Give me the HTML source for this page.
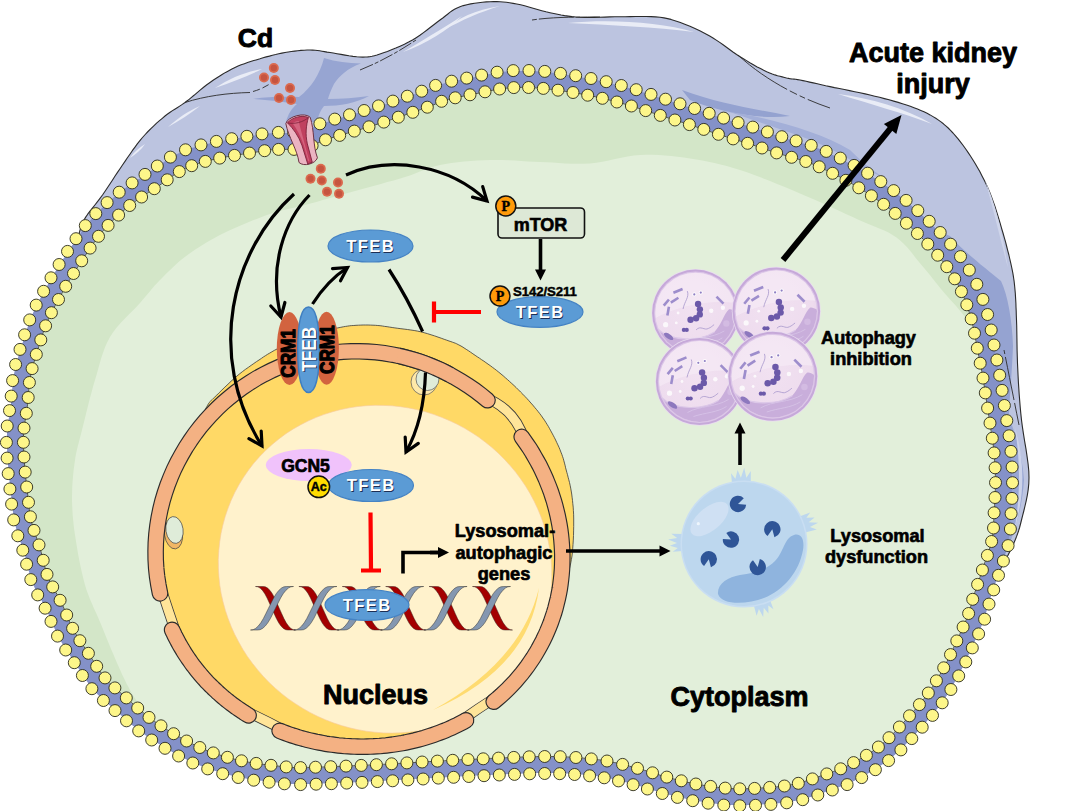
<!DOCTYPE html>
<html><head><meta charset="utf-8"><title>Cd TFEB pathway</title>
<style>html,body{margin:0;padding:0;background:#fff;}svg{display:block;}</style>
</head><body>
<svg width="1079" height="811" viewBox="0 0 1079 811" font-family="'Liberation Sans', sans-serif" font-weight="bold">
<rect width="1079" height="811" fill="#fff"/>
<defs>
<radialGradient id="vesg" cx="45%" cy="42%" r="62%"><stop offset="0" stop-color="#f1e1f1"/><stop offset="0.8" stop-color="#eedcee"/><stop offset="1" stop-color="#e6d2ea"/></radialGradient>
<clipPath id="vclip"><circle r="40.4"/></clipPath>
<clipPath id="lclip"><circle r="62"/></clipPath>
<g id="ves">
  <circle r="44.3" fill="#e9dcf0"/>
  <circle r="43.6" fill="#c6a9d9"/>
  <circle r="41.6" fill="#dcc6e8"/>
  <circle r="40.4" fill="url(#vesg)"/>
  <g clip-path="url(#vclip)">
    <path d="M-42,6 C-20,-6 10,-14 42,-10 L42,-44 L-42,-44Z" fill="#f7edf7" opacity="0.6"/>
    <path d="M-39,15 C-25,30 5,28 19,19 C26,12 29,0 33.5,-3.5 C36,-4.5 39,-2 44,0 L44,44 L-44,44 Z" fill="#c9aedb"/>
    <path d="M-39,15 C-25,30 5,28 19,19" fill="none" stroke="#dcc8e8" stroke-width="1.2"/>
    <circle cx="31" cy="10.5" r="3.2" fill="#d3bbe2"/>
    <path d="M-12,31 C0,24 16,26 29,18 M-6,35 C6,31 18,31 27,25" fill="none" stroke="#d6c2e6" stroke-width="0.9"/>
    <ellipse cx="-27" cy="23.5" rx="5.5" ry="2.4" transform="rotate(35 -27 23.5)" fill="#8d78be"/>
  </g>
  <g stroke="#9d8dcc" stroke-width="2.6" stroke-linecap="butt" fill="none">
    <path d="M-22.2,-20.3 L-13,-24.1"/><path d="M-31.9,-7.4 L-26.7,-13.6"/><path d="M-24.8,-10.5 L-17.2,-15.3"/><path d="M-28.3,2.6 L-26.7,-6.2"/><path d="M21.1,-16.4 L28.1,-9.4"/>
  </g>
  <path d="M-8.2,-22 C-6,-16 -11,-12 -12.5,-4" stroke="#a898cc" stroke-width="0.8" fill="none"/>
  <path d="M0.6,17 C5,12 9,18 13,15.5 C15.5,14.5 17,13 18.7,11.7" stroke="#a898cc" stroke-width="0.8" fill="none"/>
  <g fill="#6b59a9">
    <circle cx="2.6" cy="-9.1" r="3.2"/><circle cx="4.4" cy="-3.7" r="3.2"/><circle cx="4.3" cy="1.4" r="3.2"/><circle cx="0.6" cy="5.3" r="3.2"/><circle cx="-5" cy="6.8" r="3.2"/>
    <circle cx="-11.7" cy="17" r="2.1"/><circle cx="-8.8" cy="17" r="2.1"/>
  </g>
  <g fill="#fff" opacity="0.8"><circle cx="-1.2" cy="-18.7" r="2.1"/><circle cx="5.3" cy="-20.5" r="2.1"/><circle cx="-30" cy="11.7" r="2.6"/><circle cx="15.8" cy="-2.3" r="2.2"/><circle cx="27.5" cy="-5.3" r="2.2"/><circle cx="-17.5" cy="0" r="1.4"/><circle cx="-19.3" cy="10" r="1.4"/></g>
  <g fill="#8f7fc4"><circle cx="-1.2" cy="-18.7" r="1.1"/><circle cx="5.3" cy="-20.5" r="1.1"/></g>
</g>
<g id="pac"><path d="M0,0 L7.43,-3.47 A8.2,8.2 0 1 0 7.43,3.47 Z" fill="#2f5597"/></g>
<g id="tuft"><path d="M-9,3 L-10,-7 L-6,-2 L-4,-10 L-1,-3 L2,-12 L4,-3 L8,-9 L8,3 Z" fill="#bdd7ee"/></g>
</defs>
<path d="M76.0,262.0 L76.1,260.3 L76.3,258.0 L76.4,255.3 L76.6,252.2 L76.9,249.1 L77.2,245.9 L77.5,242.8 L78.0,240.0 L78.5,237.4 L78.9,235.0 L79.4,232.6 L80.0,230.2 L80.7,227.8 L81.5,225.3 L82.6,222.7 L84.0,220.0 L85.7,217.1 L87.7,214.2 L90.0,211.2 L92.4,208.1 L94.9,205.0 L97.5,201.7 L100.0,198.4 L102.5,195.0 L104.9,191.5 L107.4,187.8 L109.9,184.0 L112.4,180.2 L114.9,176.3 L117.5,172.4 L120.0,168.7 L122.5,165.0 L125.0,161.4 L127.4,157.8 L129.9,154.2 L132.3,150.7 L134.8,147.3 L137.3,143.9 L139.9,140.6 L142.5,137.5 L145.2,134.5 L148.0,131.5 L150.9,128.6 L153.8,125.9 L156.6,123.2 L159.5,120.7 L162.3,118.3 L165.0,116.0 L167.6,114.0 L170.1,112.2 L172.5,110.6 L174.8,109.2 L177.2,107.7 L179.7,106.1 L182.3,104.4 L185.0,102.5 L187.9,100.3 L190.9,97.8 L194.0,95.3 L197.2,92.6 L200.4,89.9 L203.6,87.3 L206.8,84.8 L210.0,82.5 L213.1,80.3 L216.2,78.3 L219.4,76.2 L222.5,74.3 L225.6,72.4 L228.8,70.7 L231.9,69.0 L235.0,67.5 L238.1,66.1 L241.2,64.8 L244.4,63.7 L247.5,62.6 L250.6,61.6 L253.8,60.6 L256.9,59.7 L260.0,58.8 L263.1,57.8 L266.2,56.9 L269.4,56.1 L272.5,55.2 L275.6,54.5 L278.8,53.7 L281.9,53.1 L285.0,52.5 L288.2,52.0 L291.4,51.5 L294.6,51.1 L297.8,50.7 L301.0,50.4 L304.1,50.2 L307.1,50.0 L310.0,50.0 L312.7,50.1 L315.1,50.2 L317.4,50.5 L319.7,50.8 L322.0,51.2 L324.4,51.6 L327.1,52.1 L330.0,52.5 L333.3,53.0 L337.0,53.7 L341.0,54.4 L345.0,55.1 L349.0,55.8 L353.0,56.4 L356.7,56.8 L360.0,57.0 L362.9,57.1 L365.4,57.0 L367.7,56.9 L369.8,56.7 L372.0,56.3 L374.4,55.7 L377.0,55.0 L380.0,54.0 L383.5,52.8 L387.4,51.4 L391.5,49.8 L395.8,48.1 L400.1,46.2 L404.4,44.2 L408.6,42.1 L412.5,40.0 L416.2,37.7 L419.9,35.3 L423.5,32.6 L427.0,30.0 L430.5,27.3 L433.8,24.7 L437.0,22.2 L440.0,20.0 L442.8,18.0 L445.3,16.0 L447.6,14.2 L449.8,12.4 L452.1,10.8 L454.5,9.3 L457.1,7.9 L460.0,6.7 L463.3,5.6 L466.9,4.7 L470.7,3.9 L474.6,3.2 L478.6,2.7 L482.5,2.2 L486.3,1.9 L490.0,1.7 L493.5,1.6 L496.8,1.6 L500.0,1.7 L503.1,2.0 L506.3,2.3 L509.6,2.8 L513.1,3.4 L516.7,4.0 L520.6,4.8 L524.6,5.8 L528.8,7.0 L533.1,8.2 L537.5,9.5 L541.8,10.7 L546.0,11.8 L550.0,12.7 L553.8,13.5 L557.5,14.3 L561.1,15.0 L564.6,15.6 L568.2,16.1 L571.9,16.6 L575.8,17.0 L580.0,17.3 L584.5,17.5 L589.3,17.5 L594.3,17.4 L599.4,17.3 L604.6,17.1 L609.8,16.9 L614.9,16.8 L620.0,16.7 L625.1,16.7 L630.3,16.6 L635.6,16.5 L640.8,16.5 L646.0,16.5 L650.9,16.6 L655.6,16.9 L660.0,17.3 L664.0,17.9 L667.6,18.6 L671.0,19.4 L674.2,20.4 L677.3,21.4 L680.4,22.5 L683.5,23.7 L686.7,25.0 L690.0,26.3 L693.3,27.7 L696.6,29.2 L699.8,30.8 L703.1,32.5 L706.4,34.2 L709.7,36.1 L713.0,38.0 L716.3,40.1 L719.7,42.4 L723.1,44.8 L726.5,47.2 L729.9,49.7 L733.3,52.2 L736.6,54.5 L740.0,56.7 L743.4,58.8 L746.9,60.9 L750.3,63.0 L753.8,65.0 L757.2,66.9 L760.5,68.6 L763.7,70.3 L766.7,71.7 L769.6,72.9 L772.3,74.0 L774.9,74.9 L777.5,75.7 L779.9,76.3 L782.2,76.9 L784.5,77.5 L786.6,78.0 L788.5,78.4 L790.0,78.7 L791.4,78.9 L792.7,79.0 L794.0,79.1 L795.6,79.3 L797.6,79.6 L800.0,80.0 L802.9,80.6 L806.1,81.3 L809.6,82.1 L813.3,82.9 L817.3,83.8 L821.4,84.7 L825.7,85.7 L830.0,86.6 L834.5,87.6 L839.4,88.5 L844.4,89.5 L849.6,90.6 L854.8,91.7 L860.0,92.7 L865.1,93.9 L870.0,95.0 L874.8,96.2 L879.6,97.3 L884.4,98.6 L889.1,99.8 L893.7,101.1 L898.2,102.4 L902.4,103.7 L906.5,105.0 L910.3,106.3 L914.0,107.7 L917.5,109.0 L920.8,110.4 L924.0,111.8 L927.1,113.3 L930.1,114.9 L933.0,116.6 L935.8,118.3 L938.5,120.1 L941.0,121.9 L943.4,123.8 L945.8,125.9 L948.2,128.0 L950.5,130.4 L953.0,133.0 L955.5,135.8 L958.1,138.9 L960.6,142.1 L963.2,145.5 L965.7,149.0 L968.2,152.6 L970.6,156.3 L973.0,160.0 L975.3,163.8 L977.6,167.7 L979.8,171.6 L981.9,175.7 L984.0,179.8 L986.1,184.1 L988.1,188.5 L990.0,193.0 L991.8,197.7 L993.6,202.7 L995.4,207.8 L997.0,213.0 L998.6,218.2 L1000.2,223.3 L1001.6,228.3 L1003.0,233.0 L1004.3,237.6 L1005.6,242.1 L1006.7,246.5 L1007.8,250.8 L1008.9,255.0 L1009.8,259.0 L1010.7,262.8 L1011.5,266.5 L1012.2,269.9 L1012.8,272.9 L1013.3,275.8 L1013.7,278.5 L1014.1,281.2 L1014.4,283.9 L1014.7,286.8 L1015.0,290.0 L1015.3,293.3 L1015.5,296.6 L1015.7,299.9 L1015.9,303.3 L1016.0,307.0 L1016.2,310.9 L1016.3,315.2 L1016.5,320.0 L1016.7,325.3 L1016.8,331.1 L1016.9,337.3 L1017.0,343.8 L1017.1,350.4 L1017.3,357.0 L1017.5,363.6 L1017.8,370.0 L1018.1,376.2 L1018.4,382.3 L1018.8,388.4 L1019.2,394.5 L1019.7,400.7 L1020.2,407.0 L1020.8,413.4 L1021.5,420.0 L1022.4,426.9 L1023.5,434.2 L1024.7,441.7 L1026.0,449.2 L1027.1,456.7 L1028.1,464.0 L1028.8,471.0 L1029.0,477.5 L1028.8,483.6 L1028.2,489.6 L1027.3,495.3 L1026.2,500.8 L1025.0,506.0 L1023.8,511.0 L1022.6,515.6 L1021.5,520.0 L1020.5,524.0 L1019.6,527.5 L1018.6,530.7 L1017.6,533.6 L1016.6,536.4 L1015.5,539.2 L1014.3,542.0 L1013.0,545.0 L1011.6,548.1 L1010.1,551.1 L1008.5,554.2 L1006.9,557.2 L1005.2,560.3 L1003.5,563.4 L1001.8,566.6 L1000.0,570.0 L998.1,573.7 L996.0,577.9 L993.9,582.2 L991.7,586.6 L989.6,590.7 L987.7,594.5 L986.2,597.7 L985.0,600.0 L700,500 Z" fill="#bcc4e0" stroke="#2b2b2b" stroke-width="1.1" stroke-linejoin="round"/>
<path d="M324,58 C336,62 348,63 361,63.5 C348,68 339,76 334,84 C331,90 329,95 328,99 C342,99 355,98 369,96 C356,103 340,106 324,106 C320,111 318,116 317,122 L286,122 C288,114 292,108 297,104 C283,102 268,100 253,99 C268,96.5 283,96.5 299,97 C311,88 320,74 324,58Z" fill="#97a5d2"/>
<path d="M682,90 C720,104 750,108 790,116 C760,120 720,112 690,100Z" fill="#94a2d0"/>
<path d="M950,236 C962,250 985,268 1001,281 C1008,296 1012,320 1013,346 C1012,372 1010,392 1009,414 L996,414 C992,360 980,300 940,232 Z" fill="#95a3d1"/>
<path d="M985,180 C996,205 1003,235 1008,268 C1000,238 993,208 985,180Z" fill="#cfd5ea"/>
<path d="M1000,400 C1012,420 1022,450 1024,480 C1022,510 1014,535 1004,556 L996,540 C1006,500 1006,450 1000,400Z" fill="#98a6d3"/>
<path d="M1015,428 C1024,458 1026,492 1014,532 C1021,494 1020,460 1015,428Z" fill="#ccd3ea"/>
<path d="M730,112 C770,118 820,132 850,150 C870,170 880,175 885,178 C860,168 840,150 800,136Z" fill="#a3afd8"/>
<g fill="#e9ecf6">
<path d="M215,88 C230,78 245,72 262,69 C248,76 232,82 215,88Z"/>
<path d="M168,127 C178,118 188,111 200,106 C190,114 179,121 168,127Z"/>
<path d="M130,158 C134,152 139,148 145,144 C141,150 136,154 130,158Z"/>
<path d="M403,52 C420,42 440,30 462,16 C448,30 426,44 403,52Z"/>
<path d="M444,30 C458,18 475,10 500,6 C480,12 462,20 444,30Z"/>
<path d="M568,23 C610,19 660,22 694,32 C655,27 610,25 568,23Z"/>
<path d="M838,94 C870,98 905,108 932,124 C903,113 870,104 838,94Z"/>
</g>
<g fill="none" stroke="#2b2b2b" stroke-width="0.9">
<path d="M185,102.5 C205,96 228,93 250,92.5"/>
<path d="M253,91.5 C262,89 269,85 275,80" stroke-dasharray="7 3"/>
<path d="M360,70 C380,62 398,52 416,40" stroke-dasharray="14 2 4 2"/>
<path d="M532,20 C552,17 575,17 600,17" stroke-dasharray="5 2 30 0"/>
<path d="M738,55 C765,80 800,98 830,108" stroke-dasharray="60 3 8 3 6 3"/>
<path d="M1004,350 C1010,380 1014,400 1019,425" stroke-dasharray="4 3 40 0"/>
</g>
<path d="M302.0,140.0 L304.3,139.5 L306.4,138.8 L308.3,138.1 L310.2,137.3 L312.1,136.4 L314.0,135.4 L316.2,134.4 L318.7,133.3 L321.6,132.2 L325.0,131.0 L328.9,129.8 L333.3,128.4 L338.0,127.0 L343.1,125.5 L348.3,124.0 L353.7,122.4 L359.1,120.8 L364.6,119.2 L369.9,117.6 L375.0,116.0 L380.1,114.3 L385.5,112.6 L391.0,110.7 L396.5,108.9 L402.0,107.0 L407.3,105.2 L412.4,103.4 L417.0,101.8 L421.3,100.3 L425.0,99.0 L428.0,97.9 L430.4,97.0 L432.3,96.2 L433.8,95.5 L435.1,94.9 L436.3,94.3 L437.5,93.8 L439.0,93.2 L440.8,92.7 L443.0,92.0 L445.7,91.3 L448.6,90.6 L451.7,89.9 L455.0,89.1 L458.5,88.4 L461.9,87.7 L465.4,87.0 L468.9,86.3 L472.3,85.6 L475.6,85.0 L478.8,84.4 L481.9,83.7 L485.1,83.1 L488.2,82.4 L491.3,81.8 L494.5,81.2 L497.6,80.7 L500.7,80.2 L503.8,79.8 L507.0,79.5 L510.2,79.3 L513.4,79.1 L516.5,79.0 L519.7,78.9 L522.9,78.9 L526.1,78.9 L529.3,79.0 L532.6,79.1 L535.8,79.3 L539.0,79.5 L542.2,79.7 L545.5,80.0 L548.8,80.4 L552.1,80.8 L555.4,81.2 L558.7,81.7 L562.0,82.2 L565.2,82.7 L568.4,83.2 L571.6,83.7 L574.7,84.2 L577.8,84.7 L580.9,85.3 L583.9,85.8 L586.9,86.4 L589.9,86.9 L592.9,87.5 L595.9,88.2 L599.0,88.8 L602.0,89.5 L605.1,90.2 L608.1,90.9 L611.2,91.7 L614.2,92.5 L617.3,93.3 L620.4,94.1 L623.4,94.9 L626.5,95.8 L629.5,96.6 L632.5,97.5 L635.5,98.4 L638.4,99.3 L641.4,100.2 L644.3,101.2 L647.2,102.1 L650.2,103.1 L653.1,104.1 L656.1,105.1 L659.0,106.0 L662.0,107.0 L665.0,108.0 L668.1,108.9 L671.1,109.9 L674.2,110.9 L677.2,111.8 L680.3,112.8 L683.4,113.8 L686.4,114.8 L689.5,115.7 L692.5,116.7 L695.5,117.7 L698.5,118.7 L701.4,119.6 L704.3,120.6 L707.3,121.6 L710.2,122.6 L713.1,123.6 L716.1,124.6 L719.0,125.5 L722.0,126.5 L725.0,127.4 L728.0,128.4 L731.0,129.3 L734.0,130.2 L737.0,131.2 L740.0,132.1 L743.0,133.0 L746.0,133.9 L749.0,134.9 L752.0,135.8 L755.0,136.8 L757.9,137.7 L760.9,138.7 L763.8,139.7 L766.8,140.7 L769.7,141.7 L772.6,142.6 L775.6,143.6 L778.5,144.6 L781.5,145.5 L784.5,146.4 L787.5,147.3 L790.5,148.1 L793.6,149.0 L796.6,149.8 L799.7,150.7 L802.7,151.6 L805.7,152.5 L808.6,153.5 L811.5,154.5 L814.4,155.6 L817.2,156.7 L819.9,157.9 L822.7,159.1 L825.4,160.3 L828.1,161.6 L830.8,162.9 L833.5,164.3 L836.3,165.6 L839.0,167.0 L841.8,168.4 L844.5,169.9 L847.3,171.4 L850.1,172.9 L852.9,174.4 L855.6,176.0 L858.4,177.6 L861.1,179.2 L863.8,180.9 L866.5,182.5 L869.1,184.2 L871.8,185.8 L874.4,187.5 L876.9,189.2 L879.5,191.0 L882.0,192.7 L884.6,194.5 L887.1,196.3 L889.5,198.1 L892.0,200.0 L894.4,201.9 L896.9,203.8 L899.3,205.8 L901.7,207.8 L904.0,209.8 L906.4,211.8 L908.7,213.8 L911.0,215.9 L913.3,217.9 L915.5,220.0 L917.7,222.0 L919.9,224.1 L922.0,226.1 L924.2,228.2 L926.2,230.2 L928.3,232.3 L930.4,234.4 L932.4,236.6 L934.5,238.8 L936.5,241.0 L938.5,243.3 L940.6,245.6 L942.6,247.9 L944.6,250.3 L946.7,252.7 L948.6,255.1 L950.6,257.6 L952.4,260.0 L954.3,262.5 L956.0,265.0 L957.7,267.5 L959.3,270.0 L960.9,272.6 L962.4,275.2 L963.9,277.8 L965.3,280.4 L966.7,283.0 L968.0,285.6 L969.3,288.3 L970.5,291.0 L971.7,293.7 L972.8,296.4 L973.8,299.2 L974.8,302.0 L975.8,304.8 L976.7,307.6 L977.6,310.4 L978.4,313.3 L979.2,316.1 L980.0,319.0 L980.7,321.9 L981.4,324.8 L982.1,327.8 L982.7,330.7 L983.2,333.7 L983.8,336.7 L984.3,339.6 L984.9,342.6 L985.4,345.6 L986.0,348.5 L986.6,351.4 L987.1,354.3 L987.7,357.2 L988.3,360.1 L988.8,363.0 L989.4,365.9 L989.9,368.8 L990.5,371.7 L991.0,374.6 L991.5,377.5 L992.0,380.5 L992.5,383.6 L993.0,386.8 L993.5,389.9 L993.9,393.1 L994.4,396.2 L994.8,399.2 L995.2,402.0 L995.6,404.6 L996.0,407.0 L996.3,409.1 L996.6,410.8 L996.8,412.3 L997.1,413.6 L997.3,414.8 L997.5,416.0 L997.7,417.3 L997.9,418.8 L998.2,420.5 L998.5,422.5 L998.9,424.9 L999.2,427.4 L999.7,430.2 L1000.1,433.1 L1000.6,436.1 L1001.0,439.2 L1001.4,442.3 L1001.8,445.5 L1002.2,448.5 L1002.5,451.5 L1002.8,454.4 L1003.0,457.4 L1003.2,460.3 L1003.4,463.2 L1003.6,466.2 L1003.7,469.1 L1003.8,472.1 L1003.9,475.1 L1004.0,478.0 L1004.0,481.0 L1004.0,484.0 L1003.9,487.0 L1003.9,490.0 L1003.7,493.0 L1003.6,496.0 L1003.5,499.0 L1003.3,502.0 L1003.1,505.0 L1002.9,508.0 L1002.8,511.0 L1002.6,514.0 L1002.5,516.9 L1002.4,519.9 L1002.2,522.9 L1002.1,525.8 L1001.9,528.8 L1001.7,531.7 L1001.4,534.6 L1001.0,537.6 L1000.5,540.5 L999.9,543.4 L999.1,546.3 L998.3,549.3 L997.4,552.2 L996.5,555.1 L995.5,558.0 L994.4,560.9 L993.4,563.7 L992.5,566.6 L991.5,569.5 L990.6,572.4 L989.6,575.4 L988.6,578.4 L987.6,581.3 L986.6,584.3 L985.6,587.2 L984.6,590.1 L983.7,592.9 L982.8,595.5 L982.0,598.0 L981.3,600.3 L980.6,602.5 L980.1,604.6 L979.5,606.5 L979.0,608.4 L978.5,610.3 L977.9,612.1 L977.4,614.0 L976.7,616.0 L976.0,618.0 L975.2,620.1 L974.4,622.2 L973.5,624.3 L972.6,626.4 L971.7,628.5 L970.7,630.7 L969.7,632.9 L968.7,635.2 L967.6,637.6 L966.5,640.0 L965.4,642.5 L964.2,645.2 L962.9,647.9 L961.7,650.7 L960.4,653.5 L959.0,656.3 L957.7,659.2 L956.3,662.0 L954.9,664.8 L953.5,667.5 L952.1,670.2 L950.6,672.9 L949.1,675.6 L947.6,678.3 L946.1,681.0 L944.6,683.6 L943.0,686.3 L941.4,688.9 L939.7,691.5 L938.0,694.0 L936.3,696.5 L934.6,698.8 L933.0,701.1 L931.3,703.3 L929.5,705.6 L927.7,707.9 L925.8,710.2 L923.7,712.7 L921.4,715.2 L919.0,718.0 L916.3,721.0 L913.4,724.2 L910.4,727.6 L907.2,731.1 L903.9,734.7 L900.5,738.2 L897.1,741.7 L893.7,745.0 L890.3,748.1 L887.0,751.0 L883.7,753.6 L880.4,756.1 L877.0,758.5 L873.7,760.7 L870.3,762.8 L867.0,764.9 L863.6,766.8 L860.4,768.6 L857.1,770.3 L854.0,772.0 L850.9,773.5 L848.0,774.9 L845.1,776.2 L842.2,777.4 L839.4,778.5 L836.6,779.5 L833.7,780.5 L830.9,781.5 L828.0,782.5 L825.0,783.5 L822.0,784.6 L819.0,785.6 L815.9,786.7 L812.8,787.7 L809.8,788.8 L806.6,789.7 L803.5,790.7 L800.4,791.5 L797.2,792.3 L794.0,793.0 L790.8,793.6 L787.5,794.1 L784.2,794.6 L780.8,795.0 L777.5,795.3 L774.2,795.6 L770.8,795.9 L767.5,796.1 L764.2,796.3 L761.0,796.5 L757.8,796.7 L754.7,796.9 L751.6,797.0 L748.5,797.1 L745.4,797.2 L742.4,797.3 L739.3,797.3 L736.2,797.2 L733.1,797.1 L730.0,797.0 L726.8,796.8 L723.6,796.5 L720.4,796.2 L717.2,795.9 L714.0,795.5 L710.8,795.0 L707.6,794.6 L704.4,794.1 L701.2,793.5 L698.0,793.0 L694.9,792.4 L691.7,791.8 L688.6,791.2 L685.5,790.5 L682.4,789.8 L679.3,789.1 L676.2,788.3 L673.1,787.6 L670.1,786.8 L667.0,786.0 L664.0,785.2 L661.0,784.3 L658.0,783.4 L655.0,782.5 L652.0,781.5 L649.0,780.6 L646.0,779.7 L643.0,778.7 L640.0,777.8 L637.0,777.0 L633.9,776.2 L630.9,775.3 L627.8,774.5 L624.7,773.7 L621.6,772.9 L618.4,772.1 L615.3,771.4 L612.2,770.7 L609.1,770.1 L606.0,769.5 L602.9,769.0 L599.8,768.5 L596.7,768.1 L593.6,767.7 L590.5,767.3 L587.4,767.0 L584.3,766.7 L581.2,766.5 L578.1,766.2 L575.0,766.0 L572.0,765.8 L569.0,765.6 L566.1,765.4 L563.2,765.3 L560.3,765.2 L557.3,765.1 L554.3,765.0 L551.0,765.0 L547.6,765.0 L544.0,765.0 L540.2,765.0 L536.3,765.1 L532.3,765.2 L528.1,765.3 L523.8,765.5 L519.4,765.7 L514.8,765.9 L510.0,766.1 L505.1,766.3 L500.0,766.5 L494.7,766.7 L489.2,767.0 L483.5,767.3 L477.6,767.5 L471.6,767.8 L465.5,768.2 L459.2,768.5 L452.9,768.8 L446.5,769.2 L440.0,769.5 L433.4,769.9 L426.6,770.3 L419.6,770.7 L412.5,771.1 L405.3,771.5 L398.1,772.0 L390.9,772.4 L383.8,772.8 L376.8,773.2 L370.0,773.5 L363.1,773.8 L356.0,774.2 L348.8,774.5 L341.6,774.8 L334.6,775.1 L327.7,775.3 L321.3,775.6 L315.2,775.7 L309.8,775.9 L305.0,776.0 L301.0,776.1 L297.9,776.1 L295.3,776.1 L293.2,776.0 L291.4,775.9 L289.8,775.8 L288.2,775.6 L286.5,775.4 L284.5,775.2 L282.0,775.0 L279.1,774.7 L276.1,774.4 L272.8,774.1 L269.5,773.7 L266.1,773.3 L262.7,772.9 L259.4,772.4 L256.1,771.9 L253.0,771.5 L250.0,771.0 L247.2,770.5 L244.6,770.1 L242.0,769.6 L239.6,769.1 L237.2,768.6 L234.8,768.1 L232.4,767.5 L230.0,766.9 L227.5,766.2 L225.0,765.5 L222.4,764.7 L219.7,763.9 L217.0,763.1 L214.3,762.2 L211.6,761.3 L208.9,760.3 L206.2,759.3 L203.4,758.3 L200.7,757.2 L198.0,756.0 L195.3,754.8 L192.6,753.5 L189.9,752.2 L187.2,750.9 L184.4,749.5 L181.7,748.0 L179.0,746.6 L176.3,745.1 L173.7,743.5 L171.0,742.0 L168.3,740.4 L165.7,738.8 L163.0,737.2 L160.4,735.6 L157.8,733.9 L155.2,732.2 L152.6,730.4 L150.0,728.6 L147.5,726.8 L145.0,725.0 L142.5,723.1 L140.1,721.2 L137.7,719.3 L135.4,717.3 L133.0,715.2 L130.7,713.2 L128.4,711.2 L126.1,709.1 L123.8,707.1 L121.5,705.0 L119.2,703.0 L116.8,700.9 L114.5,698.9 L112.2,696.9 L109.8,694.8 L107.6,692.7 L105.3,690.6 L103.1,688.5 L101.0,686.3 L99.0,684.0 L97.1,681.7 L95.2,679.3 L93.5,676.8 L91.8,674.3 L90.1,671.8 L88.5,669.2 L86.9,666.6 L85.2,664.1 L83.6,661.5 L82.0,659.0 L80.3,656.5 L78.7,654.0 L77.0,651.6 L75.3,649.1 L73.7,646.6 L72.1,644.1 L70.5,641.6 L68.9,639.1 L67.4,636.6 L66.0,634.0 L64.6,631.4 L63.4,628.7 L62.2,626.0 L61.0,623.3 L59.9,620.6 L58.8,617.9 L57.6,615.2 L56.5,612.4 L55.3,609.7 L54.0,607.0 L52.7,604.3 L51.2,601.6 L49.8,599.0 L48.3,596.3 L46.8,593.6 L45.3,590.9 L43.8,588.2 L42.4,585.5 L41.2,582.8 L40.0,580.0 L39.0,577.2 L38.0,574.3 L37.2,571.4 L36.4,568.5 L35.7,565.6 L35.0,562.6 L34.3,559.7 L33.6,556.8 L32.8,553.9 L32.0,551.0 L31.1,548.2 L30.2,545.4 L29.2,542.6 L28.2,539.8 L27.2,537.0 L26.3,534.2 L25.4,531.4 L24.5,528.6 L23.7,525.8 L23.0,523.0 L22.4,520.1 L21.9,517.3 L21.4,514.4 L21.0,511.5 L20.6,508.6 L20.3,505.7 L20.0,502.8 L19.7,499.9 L19.3,496.9 L19.0,494.0 L18.7,491.0 L18.3,488.1 L18.0,485.1 L17.6,482.1 L17.3,479.1 L17.0,476.0 L16.7,473.0 L16.5,470.0 L16.2,467.0 L16.0,464.0 L15.8,461.0 L15.6,458.0 L15.4,455.0 L15.2,452.0 L15.1,449.0 L14.9,446.0 L14.9,443.0 L14.8,440.0 L14.9,437.0 L15.0,434.0 L15.2,431.0 L15.5,428.0 L15.9,425.0 L16.3,422.0 L16.8,418.9 L17.2,415.9 L17.7,412.9 L18.2,409.9 L18.6,407.0 L19.0,404.0 L19.3,401.1 L19.6,398.1 L19.8,395.2 L20.0,392.3 L20.2,389.4 L20.5,386.6 L20.8,383.7 L21.1,380.8 L21.5,377.9 L22.0,375.0 L22.6,372.1 L23.2,369.2 L24.0,366.3 L24.7,363.4 L25.6,360.5 L26.4,357.6 L27.3,354.7 L28.2,351.8 L29.1,348.9 L30.0,346.0 L30.9,343.1 L31.8,340.2 L32.7,337.2 L33.7,334.3 L34.6,331.4 L35.6,328.5 L36.6,325.6 L37.7,322.7 L38.8,319.8 L40.0,317.0 L41.3,314.2 L42.6,311.3 L44.1,308.3 L45.6,305.4 L47.1,302.6 L48.6,299.8 L50.1,297.1 L51.5,294.5 L52.8,292.2 L54.0,290.0 L55.0,288.1 L55.9,286.5 L56.6,285.2 L57.2,284.0 L57.9,282.9 L58.5,281.8 L59.2,280.6 L60.0,279.3 L60.9,277.8 L62.0,276.0 L63.3,273.9 L64.7,271.7 L66.1,269.3 L67.7,266.8 L69.4,264.2 L71.1,261.5 L72.8,258.8 L74.5,256.2 L76.3,253.5 L78.0,251.0 L79.7,248.5 L81.3,246.0 L83.0,243.5 L84.6,241.0 L86.3,238.6 L88.1,236.1 L89.9,233.6 L91.8,231.1 L93.8,228.5 L96.0,226.0 L98.3,223.4 L100.7,220.8 L103.3,218.1 L105.9,215.5 L108.6,212.8 L111.4,210.2 L114.2,207.5 L117.1,205.0 L120.1,202.4 L123.0,200.0 L126.0,197.6 L129.2,195.3 L132.4,192.9 L135.7,190.7 L139.1,188.4 L142.4,186.2 L145.7,184.1 L148.9,182.0 L152.0,180.0 L155.0,178.0 L157.8,176.1 L160.5,174.2 L163.1,172.3 L165.6,170.5 L168.1,168.8 L170.5,167.1 L173.0,165.4 L175.6,163.9 L178.2,162.4 L181.0,161.0 L183.8,159.7 L186.6,158.5 L189.4,157.4 L192.3,156.4 L195.2,155.4 L198.2,154.5 L201.4,153.6 L204.7,152.8 L208.2,151.9 L212.0,151.0 L216.2,150.1 L220.9,149.2 L225.9,148.3 L231.1,147.4 L236.4,146.5 L241.7,145.7 L246.7,144.9 L251.3,144.2 L255.5,143.5 L259.0,143.0 L261.8,142.6 L264.0,142.2 L265.7,141.9 L267.1,141.7 L268.2,141.6 L269.3,141.4 L270.4,141.3 L271.6,141.2 L273.1,141.1 L275.0,141.0 L277.3,140.9 L279.8,140.9 L282.4,140.9 L285.2,140.9 L288.1,140.9 L291.0,140.9 L293.8,140.9 L296.7,140.7 L299.4,140.4Z" fill="#d3e6c8"/>
<clipPath id="cellclip"><path d="M302.0,140.0 L304.3,139.5 L306.4,138.8 L308.3,138.1 L310.2,137.3 L312.1,136.4 L314.0,135.4 L316.2,134.4 L318.7,133.3 L321.6,132.2 L325.0,131.0 L328.9,129.8 L333.3,128.4 L338.0,127.0 L343.1,125.5 L348.3,124.0 L353.7,122.4 L359.1,120.8 L364.6,119.2 L369.9,117.6 L375.0,116.0 L380.1,114.3 L385.5,112.6 L391.0,110.7 L396.5,108.9 L402.0,107.0 L407.3,105.2 L412.4,103.4 L417.0,101.8 L421.3,100.3 L425.0,99.0 L428.0,97.9 L430.4,97.0 L432.3,96.2 L433.8,95.5 L435.1,94.9 L436.3,94.3 L437.5,93.8 L439.0,93.2 L440.8,92.7 L443.0,92.0 L445.7,91.3 L448.6,90.6 L451.7,89.9 L455.0,89.1 L458.5,88.4 L461.9,87.7 L465.4,87.0 L468.9,86.3 L472.3,85.6 L475.6,85.0 L478.8,84.4 L481.9,83.7 L485.1,83.1 L488.2,82.4 L491.3,81.8 L494.5,81.2 L497.6,80.7 L500.7,80.2 L503.8,79.8 L507.0,79.5 L510.2,79.3 L513.4,79.1 L516.5,79.0 L519.7,78.9 L522.9,78.9 L526.1,78.9 L529.3,79.0 L532.6,79.1 L535.8,79.3 L539.0,79.5 L542.2,79.7 L545.5,80.0 L548.8,80.4 L552.1,80.8 L555.4,81.2 L558.7,81.7 L562.0,82.2 L565.2,82.7 L568.4,83.2 L571.6,83.7 L574.7,84.2 L577.8,84.7 L580.9,85.3 L583.9,85.8 L586.9,86.4 L589.9,86.9 L592.9,87.5 L595.9,88.2 L599.0,88.8 L602.0,89.5 L605.1,90.2 L608.1,90.9 L611.2,91.7 L614.2,92.5 L617.3,93.3 L620.4,94.1 L623.4,94.9 L626.5,95.8 L629.5,96.6 L632.5,97.5 L635.5,98.4 L638.4,99.3 L641.4,100.2 L644.3,101.2 L647.2,102.1 L650.2,103.1 L653.1,104.1 L656.1,105.1 L659.0,106.0 L662.0,107.0 L665.0,108.0 L668.1,108.9 L671.1,109.9 L674.2,110.9 L677.2,111.8 L680.3,112.8 L683.4,113.8 L686.4,114.8 L689.5,115.7 L692.5,116.7 L695.5,117.7 L698.5,118.7 L701.4,119.6 L704.3,120.6 L707.3,121.6 L710.2,122.6 L713.1,123.6 L716.1,124.6 L719.0,125.5 L722.0,126.5 L725.0,127.4 L728.0,128.4 L731.0,129.3 L734.0,130.2 L737.0,131.2 L740.0,132.1 L743.0,133.0 L746.0,133.9 L749.0,134.9 L752.0,135.8 L755.0,136.8 L757.9,137.7 L760.9,138.7 L763.8,139.7 L766.8,140.7 L769.7,141.7 L772.6,142.6 L775.6,143.6 L778.5,144.6 L781.5,145.5 L784.5,146.4 L787.5,147.3 L790.5,148.1 L793.6,149.0 L796.6,149.8 L799.7,150.7 L802.7,151.6 L805.7,152.5 L808.6,153.5 L811.5,154.5 L814.4,155.6 L817.2,156.7 L819.9,157.9 L822.7,159.1 L825.4,160.3 L828.1,161.6 L830.8,162.9 L833.5,164.3 L836.3,165.6 L839.0,167.0 L841.8,168.4 L844.5,169.9 L847.3,171.4 L850.1,172.9 L852.9,174.4 L855.6,176.0 L858.4,177.6 L861.1,179.2 L863.8,180.9 L866.5,182.5 L869.1,184.2 L871.8,185.8 L874.4,187.5 L876.9,189.2 L879.5,191.0 L882.0,192.7 L884.6,194.5 L887.1,196.3 L889.5,198.1 L892.0,200.0 L894.4,201.9 L896.9,203.8 L899.3,205.8 L901.7,207.8 L904.0,209.8 L906.4,211.8 L908.7,213.8 L911.0,215.9 L913.3,217.9 L915.5,220.0 L917.7,222.0 L919.9,224.1 L922.0,226.1 L924.2,228.2 L926.2,230.2 L928.3,232.3 L930.4,234.4 L932.4,236.6 L934.5,238.8 L936.5,241.0 L938.5,243.3 L940.6,245.6 L942.6,247.9 L944.6,250.3 L946.7,252.7 L948.6,255.1 L950.6,257.6 L952.4,260.0 L954.3,262.5 L956.0,265.0 L957.7,267.5 L959.3,270.0 L960.9,272.6 L962.4,275.2 L963.9,277.8 L965.3,280.4 L966.7,283.0 L968.0,285.6 L969.3,288.3 L970.5,291.0 L971.7,293.7 L972.8,296.4 L973.8,299.2 L974.8,302.0 L975.8,304.8 L976.7,307.6 L977.6,310.4 L978.4,313.3 L979.2,316.1 L980.0,319.0 L980.7,321.9 L981.4,324.8 L982.1,327.8 L982.7,330.7 L983.2,333.7 L983.8,336.7 L984.3,339.6 L984.9,342.6 L985.4,345.6 L986.0,348.5 L986.6,351.4 L987.1,354.3 L987.7,357.2 L988.3,360.1 L988.8,363.0 L989.4,365.9 L989.9,368.8 L990.5,371.7 L991.0,374.6 L991.5,377.5 L992.0,380.5 L992.5,383.6 L993.0,386.8 L993.5,389.9 L993.9,393.1 L994.4,396.2 L994.8,399.2 L995.2,402.0 L995.6,404.6 L996.0,407.0 L996.3,409.1 L996.6,410.8 L996.8,412.3 L997.1,413.6 L997.3,414.8 L997.5,416.0 L997.7,417.3 L997.9,418.8 L998.2,420.5 L998.5,422.5 L998.9,424.9 L999.2,427.4 L999.7,430.2 L1000.1,433.1 L1000.6,436.1 L1001.0,439.2 L1001.4,442.3 L1001.8,445.5 L1002.2,448.5 L1002.5,451.5 L1002.8,454.4 L1003.0,457.4 L1003.2,460.3 L1003.4,463.2 L1003.6,466.2 L1003.7,469.1 L1003.8,472.1 L1003.9,475.1 L1004.0,478.0 L1004.0,481.0 L1004.0,484.0 L1003.9,487.0 L1003.9,490.0 L1003.7,493.0 L1003.6,496.0 L1003.5,499.0 L1003.3,502.0 L1003.1,505.0 L1002.9,508.0 L1002.8,511.0 L1002.6,514.0 L1002.5,516.9 L1002.4,519.9 L1002.2,522.9 L1002.1,525.8 L1001.9,528.8 L1001.7,531.7 L1001.4,534.6 L1001.0,537.6 L1000.5,540.5 L999.9,543.4 L999.1,546.3 L998.3,549.3 L997.4,552.2 L996.5,555.1 L995.5,558.0 L994.4,560.9 L993.4,563.7 L992.5,566.6 L991.5,569.5 L990.6,572.4 L989.6,575.4 L988.6,578.4 L987.6,581.3 L986.6,584.3 L985.6,587.2 L984.6,590.1 L983.7,592.9 L982.8,595.5 L982.0,598.0 L981.3,600.3 L980.6,602.5 L980.1,604.6 L979.5,606.5 L979.0,608.4 L978.5,610.3 L977.9,612.1 L977.4,614.0 L976.7,616.0 L976.0,618.0 L975.2,620.1 L974.4,622.2 L973.5,624.3 L972.6,626.4 L971.7,628.5 L970.7,630.7 L969.7,632.9 L968.7,635.2 L967.6,637.6 L966.5,640.0 L965.4,642.5 L964.2,645.2 L962.9,647.9 L961.7,650.7 L960.4,653.5 L959.0,656.3 L957.7,659.2 L956.3,662.0 L954.9,664.8 L953.5,667.5 L952.1,670.2 L950.6,672.9 L949.1,675.6 L947.6,678.3 L946.1,681.0 L944.6,683.6 L943.0,686.3 L941.4,688.9 L939.7,691.5 L938.0,694.0 L936.3,696.5 L934.6,698.8 L933.0,701.1 L931.3,703.3 L929.5,705.6 L927.7,707.9 L925.8,710.2 L923.7,712.7 L921.4,715.2 L919.0,718.0 L916.3,721.0 L913.4,724.2 L910.4,727.6 L907.2,731.1 L903.9,734.7 L900.5,738.2 L897.1,741.7 L893.7,745.0 L890.3,748.1 L887.0,751.0 L883.7,753.6 L880.4,756.1 L877.0,758.5 L873.7,760.7 L870.3,762.8 L867.0,764.9 L863.6,766.8 L860.4,768.6 L857.1,770.3 L854.0,772.0 L850.9,773.5 L848.0,774.9 L845.1,776.2 L842.2,777.4 L839.4,778.5 L836.6,779.5 L833.7,780.5 L830.9,781.5 L828.0,782.5 L825.0,783.5 L822.0,784.6 L819.0,785.6 L815.9,786.7 L812.8,787.7 L809.8,788.8 L806.6,789.7 L803.5,790.7 L800.4,791.5 L797.2,792.3 L794.0,793.0 L790.8,793.6 L787.5,794.1 L784.2,794.6 L780.8,795.0 L777.5,795.3 L774.2,795.6 L770.8,795.9 L767.5,796.1 L764.2,796.3 L761.0,796.5 L757.8,796.7 L754.7,796.9 L751.6,797.0 L748.5,797.1 L745.4,797.2 L742.4,797.3 L739.3,797.3 L736.2,797.2 L733.1,797.1 L730.0,797.0 L726.8,796.8 L723.6,796.5 L720.4,796.2 L717.2,795.9 L714.0,795.5 L710.8,795.0 L707.6,794.6 L704.4,794.1 L701.2,793.5 L698.0,793.0 L694.9,792.4 L691.7,791.8 L688.6,791.2 L685.5,790.5 L682.4,789.8 L679.3,789.1 L676.2,788.3 L673.1,787.6 L670.1,786.8 L667.0,786.0 L664.0,785.2 L661.0,784.3 L658.0,783.4 L655.0,782.5 L652.0,781.5 L649.0,780.6 L646.0,779.7 L643.0,778.7 L640.0,777.8 L637.0,777.0 L633.9,776.2 L630.9,775.3 L627.8,774.5 L624.7,773.7 L621.6,772.9 L618.4,772.1 L615.3,771.4 L612.2,770.7 L609.1,770.1 L606.0,769.5 L602.9,769.0 L599.8,768.5 L596.7,768.1 L593.6,767.7 L590.5,767.3 L587.4,767.0 L584.3,766.7 L581.2,766.5 L578.1,766.2 L575.0,766.0 L572.0,765.8 L569.0,765.6 L566.1,765.4 L563.2,765.3 L560.3,765.2 L557.3,765.1 L554.3,765.0 L551.0,765.0 L547.6,765.0 L544.0,765.0 L540.2,765.0 L536.3,765.1 L532.3,765.2 L528.1,765.3 L523.8,765.5 L519.4,765.7 L514.8,765.9 L510.0,766.1 L505.1,766.3 L500.0,766.5 L494.7,766.7 L489.2,767.0 L483.5,767.3 L477.6,767.5 L471.6,767.8 L465.5,768.2 L459.2,768.5 L452.9,768.8 L446.5,769.2 L440.0,769.5 L433.4,769.9 L426.6,770.3 L419.6,770.7 L412.5,771.1 L405.3,771.5 L398.1,772.0 L390.9,772.4 L383.8,772.8 L376.8,773.2 L370.0,773.5 L363.1,773.8 L356.0,774.2 L348.8,774.5 L341.6,774.8 L334.6,775.1 L327.7,775.3 L321.3,775.6 L315.2,775.7 L309.8,775.9 L305.0,776.0 L301.0,776.1 L297.9,776.1 L295.3,776.1 L293.2,776.0 L291.4,775.9 L289.8,775.8 L288.2,775.6 L286.5,775.4 L284.5,775.2 L282.0,775.0 L279.1,774.7 L276.1,774.4 L272.8,774.1 L269.5,773.7 L266.1,773.3 L262.7,772.9 L259.4,772.4 L256.1,771.9 L253.0,771.5 L250.0,771.0 L247.2,770.5 L244.6,770.1 L242.0,769.6 L239.6,769.1 L237.2,768.6 L234.8,768.1 L232.4,767.5 L230.0,766.9 L227.5,766.2 L225.0,765.5 L222.4,764.7 L219.7,763.9 L217.0,763.1 L214.3,762.2 L211.6,761.3 L208.9,760.3 L206.2,759.3 L203.4,758.3 L200.7,757.2 L198.0,756.0 L195.3,754.8 L192.6,753.5 L189.9,752.2 L187.2,750.9 L184.4,749.5 L181.7,748.0 L179.0,746.6 L176.3,745.1 L173.7,743.5 L171.0,742.0 L168.3,740.4 L165.7,738.8 L163.0,737.2 L160.4,735.6 L157.8,733.9 L155.2,732.2 L152.6,730.4 L150.0,728.6 L147.5,726.8 L145.0,725.0 L142.5,723.1 L140.1,721.2 L137.7,719.3 L135.4,717.3 L133.0,715.2 L130.7,713.2 L128.4,711.2 L126.1,709.1 L123.8,707.1 L121.5,705.0 L119.2,703.0 L116.8,700.9 L114.5,698.9 L112.2,696.9 L109.8,694.8 L107.6,692.7 L105.3,690.6 L103.1,688.5 L101.0,686.3 L99.0,684.0 L97.1,681.7 L95.2,679.3 L93.5,676.8 L91.8,674.3 L90.1,671.8 L88.5,669.2 L86.9,666.6 L85.2,664.1 L83.6,661.5 L82.0,659.0 L80.3,656.5 L78.7,654.0 L77.0,651.6 L75.3,649.1 L73.7,646.6 L72.1,644.1 L70.5,641.6 L68.9,639.1 L67.4,636.6 L66.0,634.0 L64.6,631.4 L63.4,628.7 L62.2,626.0 L61.0,623.3 L59.9,620.6 L58.8,617.9 L57.6,615.2 L56.5,612.4 L55.3,609.7 L54.0,607.0 L52.7,604.3 L51.2,601.6 L49.8,599.0 L48.3,596.3 L46.8,593.6 L45.3,590.9 L43.8,588.2 L42.4,585.5 L41.2,582.8 L40.0,580.0 L39.0,577.2 L38.0,574.3 L37.2,571.4 L36.4,568.5 L35.7,565.6 L35.0,562.6 L34.3,559.7 L33.6,556.8 L32.8,553.9 L32.0,551.0 L31.1,548.2 L30.2,545.4 L29.2,542.6 L28.2,539.8 L27.2,537.0 L26.3,534.2 L25.4,531.4 L24.5,528.6 L23.7,525.8 L23.0,523.0 L22.4,520.1 L21.9,517.3 L21.4,514.4 L21.0,511.5 L20.6,508.6 L20.3,505.7 L20.0,502.8 L19.7,499.9 L19.3,496.9 L19.0,494.0 L18.7,491.0 L18.3,488.1 L18.0,485.1 L17.6,482.1 L17.3,479.1 L17.0,476.0 L16.7,473.0 L16.5,470.0 L16.2,467.0 L16.0,464.0 L15.8,461.0 L15.6,458.0 L15.4,455.0 L15.2,452.0 L15.1,449.0 L14.9,446.0 L14.9,443.0 L14.8,440.0 L14.9,437.0 L15.0,434.0 L15.2,431.0 L15.5,428.0 L15.9,425.0 L16.3,422.0 L16.8,418.9 L17.2,415.9 L17.7,412.9 L18.2,409.9 L18.6,407.0 L19.0,404.0 L19.3,401.1 L19.6,398.1 L19.8,395.2 L20.0,392.3 L20.2,389.4 L20.5,386.6 L20.8,383.7 L21.1,380.8 L21.5,377.9 L22.0,375.0 L22.6,372.1 L23.2,369.2 L24.0,366.3 L24.7,363.4 L25.6,360.5 L26.4,357.6 L27.3,354.7 L28.2,351.8 L29.1,348.9 L30.0,346.0 L30.9,343.1 L31.8,340.2 L32.7,337.2 L33.7,334.3 L34.6,331.4 L35.6,328.5 L36.6,325.6 L37.7,322.7 L38.8,319.8 L40.0,317.0 L41.3,314.2 L42.6,311.3 L44.1,308.3 L45.6,305.4 L47.1,302.6 L48.6,299.8 L50.1,297.1 L51.5,294.5 L52.8,292.2 L54.0,290.0 L55.0,288.1 L55.9,286.5 L56.6,285.2 L57.2,284.0 L57.9,282.9 L58.5,281.8 L59.2,280.6 L60.0,279.3 L60.9,277.8 L62.0,276.0 L63.3,273.9 L64.7,271.7 L66.1,269.3 L67.7,266.8 L69.4,264.2 L71.1,261.5 L72.8,258.8 L74.5,256.2 L76.3,253.5 L78.0,251.0 L79.7,248.5 L81.3,246.0 L83.0,243.5 L84.6,241.0 L86.3,238.6 L88.1,236.1 L89.9,233.6 L91.8,231.1 L93.8,228.5 L96.0,226.0 L98.3,223.4 L100.7,220.8 L103.3,218.1 L105.9,215.5 L108.6,212.8 L111.4,210.2 L114.2,207.5 L117.1,205.0 L120.1,202.4 L123.0,200.0 L126.0,197.6 L129.2,195.3 L132.4,192.9 L135.7,190.7 L139.1,188.4 L142.4,186.2 L145.7,184.1 L148.9,182.0 L152.0,180.0 L155.0,178.0 L157.8,176.1 L160.5,174.2 L163.1,172.3 L165.6,170.5 L168.1,168.8 L170.5,167.1 L173.0,165.4 L175.6,163.9 L178.2,162.4 L181.0,161.0 L183.8,159.7 L186.6,158.5 L189.4,157.4 L192.3,156.4 L195.2,155.4 L198.2,154.5 L201.4,153.6 L204.7,152.8 L208.2,151.9 L212.0,151.0 L216.2,150.1 L220.9,149.2 L225.9,148.3 L231.1,147.4 L236.4,146.5 L241.7,145.7 L246.7,144.9 L251.3,144.2 L255.5,143.5 L259.0,143.0 L261.8,142.6 L264.0,142.2 L265.7,141.9 L267.1,141.7 L268.2,141.6 L269.3,141.4 L270.4,141.3 L271.6,141.2 L273.1,141.1 L275.0,141.0 L277.3,140.9 L279.8,140.9 L282.4,140.9 L285.2,140.9 L288.1,140.9 L291.0,140.9 L293.8,140.9 L296.7,140.7 L299.4,140.4Z"/></clipPath>
<path d="M140.0,303.0 L142.9,299.6 L145.5,296.5 L147.9,293.7 L150.2,290.9 L152.4,288.3 L154.7,285.6 L157.2,282.9 L160.0,280.0 L163.0,277.0 L166.1,273.8 L169.3,270.7 L172.7,267.5 L176.1,264.3 L179.7,261.1 L183.5,258.0 L187.5,255.0 L191.7,252.0 L196.0,249.1 L200.5,246.2 L205.2,243.3 L209.9,240.5 L214.9,237.8 L219.9,235.1 L225.0,232.5 L230.3,229.9 L236.0,227.4 L241.8,224.9 L247.7,222.4 L253.5,220.1 L259.3,217.9 L264.8,215.8 L270.0,214.0 L274.8,212.5 L279.1,211.2 L283.2,210.1 L287.2,209.2 L291.2,208.3 L295.4,207.4 L300.0,206.3 L305.0,205.0 L310.5,203.5 L316.4,201.9 L322.7,200.1 L329.1,198.3 L335.6,196.5 L342.1,194.6 L348.6,192.8 L355.0,191.0 L361.4,189.2 L367.9,187.5 L374.4,185.7 L380.9,183.9 L387.3,182.1 L393.6,180.4 L399.5,178.7 L405.0,177.0 L410.0,175.4 L414.5,173.7 L418.6,172.0 L422.5,170.4 L426.4,168.9 L430.5,167.5 L435.0,166.2 L440.0,165.0 L445.5,164.0 L451.4,163.1 L457.7,162.3 L464.1,161.6 L470.6,161.1 L477.1,160.6 L483.6,160.2 L490.0,160.0 L496.2,159.9 L502.5,160.0 L508.8,160.3 L515.0,160.6 L521.2,161.0 L527.5,161.4 L533.8,161.7 L540.0,162.0 L546.2,162.3 L552.5,162.6 L558.8,163.0 L565.0,163.4 L571.2,163.7 L577.5,163.8 L583.8,163.8 L590.0,163.5 L596.2,162.8 L602.5,161.8 L608.8,160.5 L615.0,159.1 L621.2,157.7 L627.5,156.5 L633.8,155.6 L640.0,155.0 L646.2,154.8 L652.5,154.8 L658.8,155.1 L665.0,155.5 L671.2,156.1 L677.5,156.8 L683.8,157.6 L690.0,158.5 L696.2,159.5 L702.3,160.5 L708.3,161.7 L714.4,163.0 L720.5,164.5 L726.8,166.1 L733.3,167.9 L740.0,170.0 L747.0,172.3 L754.3,175.0 L761.8,177.8 L769.4,180.8 L777.1,183.9 L784.8,187.1 L792.5,190.3 L800.0,193.5 L807.6,196.7 L815.3,200.1 L823.1,203.6 L830.9,207.1 L838.5,210.6 L845.8,213.9 L852.7,217.1 L859.0,220.0 L864.8,222.5 L870.2,224.8 L875.2,226.8 L879.9,228.7 L884.3,230.6 L888.5,232.6 L892.6,234.9 L896.5,237.5 L900.2,240.5 L903.7,243.7 L906.9,247.1 L909.9,250.6 L912.9,254.2 L915.7,257.9 L918.6,261.5 L921.5,265.0 L924.5,268.5 L927.4,272.1 L930.3,275.6 L933.2,279.2 L936.0,282.7 L938.8,286.2 L941.4,289.4 L944.0,292.5 L946.4,295.3 L948.8,298.0 L951.0,300.4 L953.1,302.8 L955.2,305.1 L957.3,307.5 L959.4,309.9 L961.5,312.5 L963.6,315.0 L965.8,317.4 L967.9,319.8 L970.0,322.2 L972.0,324.8 L974.1,327.7 L976.1,331.1 L978.0,335.0 L979.9,339.2 L981.7,343.4 L983.6,347.8 L985.3,352.7 L987.1,358.1 L988.8,364.4 L990.4,371.6 L992.0,380.0 L993.7,389.9 L995.5,401.4 L997.3,413.9 L999.1,427.2 L1000.6,440.8 L1001.9,454.4 L1002.7,467.6 L1003.0,480.0 L1002.9,491.7 L1002.5,503.0 L1001.7,514.1 L1000.6,525.1 L999.1,536.1 L997.2,547.2 L994.9,558.4 L992.0,570.0 L988.6,582.0 L984.9,594.3 L980.6,606.8 L975.9,619.4 L970.8,632.0 L965.3,644.4 L959.4,656.4 L953.0,668.0 L946.2,679.4 L938.9,690.8 L931.2,702.1 L923.0,713.1 L914.5,723.6 L905.6,733.6 L896.4,742.7 L887.0,751.0 L877.0,758.4 L866.3,765.1 L855.2,771.1 L843.8,776.4 L832.3,781.2 L821.0,785.3 L810.2,788.9 L800.0,792.0 L790.6,794.4 L781.8,796.1 L773.4,797.2 L765.2,797.8 L757.0,797.8 L748.5,797.5 L739.6,796.9 L730.0,796.0 L719.8,794.7 L709.1,792.7 L698.2,790.2 L686.9,787.4 L675.4,784.5 L663.7,781.7 L651.9,779.1 L640.0,777.0 L628.0,775.1 L615.7,773.3 L603.2,771.6 L590.6,770.1 L577.9,768.7 L565.2,767.5 L552.6,766.6 L540.0,766.0 L527.8,765.8 L515.9,765.9 L504.3,766.3 L492.5,766.9 L480.4,767.6 L467.8,768.4 L454.4,769.3 L440.0,770.0 L424.1,770.9 L406.9,772.2 L388.7,773.6 L370.0,775.0 L351.3,776.2 L333.1,777.1 L315.9,777.4 L300.0,777.0 L285.2,775.8 L270.8,773.9 L256.9,771.6 L243.8,768.8 L231.3,765.8 L219.8,762.8 L209.4,759.8 L200.0,757.0 L192.0,754.3 L185.2,751.6 L179.5,748.8 L174.6,746.0 L170.5,743.2 L166.8,740.4 L163.3,737.7 L160.0,735.0 L157.0,732.4 L154.7,730.0 L152.9,727.6 L151.5,725.2 L150.3,722.8 L149.0,720.3 L147.7,717.7 L146.0,715.0 L144.1,712.1 L142.1,709.1 L140.0,706.1 L137.9,702.9 L135.9,699.7 L133.8,696.5 L131.9,693.3 L130.0,690.0 L128.3,686.8 L126.6,683.7 L125.1,680.6 L123.6,677.5 L122.0,674.2 L120.5,670.8 L118.8,667.1 L117.0,663.0 L115.1,658.5 L113.0,653.6 L110.8,648.5 L108.6,643.1 L106.4,637.7 L104.2,632.3 L102.1,627.0 L100.0,622.0 L98.0,617.3 L96.0,612.8 L94.0,608.4 L92.1,604.1 L90.2,599.7 L88.4,595.1 L86.6,590.2 L85.0,585.0 L83.5,579.3 L82.0,573.1 L80.6,566.7 L79.2,560.1 L78.0,553.4 L76.9,547.0 L75.9,540.8 L75.0,535.0 L74.2,529.7 L73.6,524.6 L73.1,519.8 L72.7,515.2 L72.4,510.6 L72.2,506.1 L72.0,501.6 L72.0,497.0 L72.1,492.3 L72.2,487.5 L72.5,482.7 L72.9,478.0 L73.3,473.3 L73.8,468.7 L74.4,464.3 L75.0,460.0 L75.6,456.1 L76.3,452.5 L77.1,449.1 L77.9,445.8 L78.8,442.4 L79.7,438.7 L80.8,434.7 L82.0,430.0 L83.3,424.7 L84.8,418.7 L86.3,412.4 L88.0,405.8 L89.7,399.1 L91.5,392.5 L93.2,386.1 L95.0,380.0 L96.7,374.2 L98.3,368.5 L99.8,363.0 L101.4,357.5 L103.2,352.2 L105.1,347.0 L107.4,341.9 L110.0,337.0 L113.1,332.2 L116.7,327.6 L120.6,323.1 L124.7,318.8 L128.8,314.5 L132.9,310.5 L136.6,306.7Z" fill="#e2efda" clip-path="url(#cellclip)"/>
<path d="M302.0,140.0 L304.3,139.5 L306.4,138.8 L308.3,138.1 L310.2,137.3 L312.1,136.4 L314.0,135.4 L316.2,134.4 L318.7,133.3 L321.6,132.2 L325.0,131.0 L328.9,129.8 L333.3,128.4 L338.0,127.0 L343.1,125.5 L348.3,124.0 L353.7,122.4 L359.1,120.8 L364.6,119.2 L369.9,117.6 L375.0,116.0 L380.1,114.3 L385.5,112.6 L391.0,110.7 L396.5,108.9 L402.0,107.0 L407.3,105.2 L412.4,103.4 L417.0,101.8 L421.3,100.3 L425.0,99.0 L428.0,97.9 L430.4,97.0 L432.3,96.2 L433.8,95.5 L435.1,94.9 L436.3,94.3 L437.5,93.8 L439.0,93.2 L440.8,92.7 L443.0,92.0 L445.7,91.3 L448.6,90.6 L451.7,89.9 L455.0,89.1 L458.5,88.4 L461.9,87.7 L465.4,87.0 L468.9,86.3 L472.3,85.6 L475.6,85.0 L478.8,84.4 L481.9,83.7 L485.1,83.1 L488.2,82.4 L491.3,81.8 L494.5,81.2 L497.6,80.7 L500.7,80.2 L503.8,79.8 L507.0,79.5 L510.2,79.3 L513.4,79.1 L516.5,79.0 L519.7,78.9 L522.9,78.9 L526.1,78.9 L529.3,79.0 L532.6,79.1 L535.8,79.3 L539.0,79.5 L542.2,79.7 L545.5,80.0 L548.8,80.4 L552.1,80.8 L555.4,81.2 L558.7,81.7 L562.0,82.2 L565.2,82.7 L568.4,83.2 L571.6,83.7 L574.7,84.2 L577.8,84.7 L580.9,85.3 L583.9,85.8 L586.9,86.4 L589.9,86.9 L592.9,87.5 L595.9,88.2 L599.0,88.8 L602.0,89.5 L605.1,90.2 L608.1,90.9 L611.2,91.7 L614.2,92.5 L617.3,93.3 L620.4,94.1 L623.4,94.9 L626.5,95.8 L629.5,96.6 L632.5,97.5 L635.5,98.4 L638.4,99.3 L641.4,100.2 L644.3,101.2 L647.2,102.1 L650.2,103.1 L653.1,104.1 L656.1,105.1 L659.0,106.0 L662.0,107.0 L665.0,108.0 L668.1,108.9 L671.1,109.9 L674.2,110.9 L677.2,111.8 L680.3,112.8 L683.4,113.8 L686.4,114.8 L689.5,115.7 L692.5,116.7 L695.5,117.7 L698.5,118.7 L701.4,119.6 L704.3,120.6 L707.3,121.6 L710.2,122.6 L713.1,123.6 L716.1,124.6 L719.0,125.5 L722.0,126.5 L725.0,127.4 L728.0,128.4 L731.0,129.3 L734.0,130.2 L737.0,131.2 L740.0,132.1 L743.0,133.0 L746.0,133.9 L749.0,134.9 L752.0,135.8 L755.0,136.8 L757.9,137.7 L760.9,138.7 L763.8,139.7 L766.8,140.7 L769.7,141.7 L772.6,142.6 L775.6,143.6 L778.5,144.6 L781.5,145.5 L784.5,146.4 L787.5,147.3 L790.5,148.1 L793.6,149.0 L796.6,149.8 L799.7,150.7 L802.7,151.6 L805.7,152.5 L808.6,153.5 L811.5,154.5 L814.4,155.6 L817.2,156.7 L819.9,157.9 L822.7,159.1 L825.4,160.3 L828.1,161.6 L830.8,162.9 L833.5,164.3 L836.3,165.6 L839.0,167.0 L841.8,168.4 L844.5,169.9 L847.3,171.4 L850.1,172.9 L852.9,174.4 L855.6,176.0 L858.4,177.6 L861.1,179.2 L863.8,180.9 L866.5,182.5 L869.1,184.2 L871.8,185.8 L874.4,187.5 L876.9,189.2 L879.5,191.0 L882.0,192.7 L884.6,194.5 L887.1,196.3 L889.5,198.1 L892.0,200.0 L894.4,201.9 L896.9,203.8 L899.3,205.8 L901.7,207.8 L904.0,209.8 L906.4,211.8 L908.7,213.8 L911.0,215.9 L913.3,217.9 L915.5,220.0 L917.7,222.0 L919.9,224.1 L922.0,226.1 L924.2,228.2 L926.2,230.2 L928.3,232.3 L930.4,234.4 L932.4,236.6 L934.5,238.8 L936.5,241.0 L938.5,243.3 L940.6,245.6 L942.6,247.9 L944.6,250.3 L946.7,252.7 L948.6,255.1 L950.6,257.6 L952.4,260.0 L954.3,262.5 L956.0,265.0 L957.7,267.5 L959.3,270.0 L960.9,272.6 L962.4,275.2 L963.9,277.8 L965.3,280.4 L966.7,283.0 L968.0,285.6 L969.3,288.3 L970.5,291.0 L971.7,293.7 L972.8,296.4 L973.8,299.2 L974.8,302.0 L975.8,304.8 L976.7,307.6 L977.6,310.4 L978.4,313.3 L979.2,316.1 L980.0,319.0 L980.7,321.9 L981.4,324.8 L982.1,327.8 L982.7,330.7 L983.2,333.7 L983.8,336.7 L984.3,339.6 L984.9,342.6 L985.4,345.6 L986.0,348.5 L986.6,351.4 L987.1,354.3 L987.7,357.2 L988.3,360.1 L988.8,363.0 L989.4,365.9 L989.9,368.8 L990.5,371.7 L991.0,374.6 L991.5,377.5 L992.0,380.5 L992.5,383.6 L993.0,386.8 L993.5,389.9 L993.9,393.1 L994.4,396.2 L994.8,399.2 L995.2,402.0 L995.6,404.6 L996.0,407.0 L996.3,409.1 L996.6,410.8 L996.8,412.3 L997.1,413.6 L997.3,414.8 L997.5,416.0 L997.7,417.3 L997.9,418.8 L998.2,420.5 L998.5,422.5 L998.9,424.9 L999.2,427.4 L999.7,430.2 L1000.1,433.1 L1000.6,436.1 L1001.0,439.2 L1001.4,442.3 L1001.8,445.5 L1002.2,448.5 L1002.5,451.5 L1002.8,454.4 L1003.0,457.4 L1003.2,460.3 L1003.4,463.2 L1003.6,466.2 L1003.7,469.1 L1003.8,472.1 L1003.9,475.1 L1004.0,478.0 L1004.0,481.0 L1004.0,484.0 L1003.9,487.0 L1003.9,490.0 L1003.7,493.0 L1003.6,496.0 L1003.5,499.0 L1003.3,502.0 L1003.1,505.0 L1002.9,508.0 L1002.8,511.0 L1002.6,514.0 L1002.5,516.9 L1002.4,519.9 L1002.2,522.9 L1002.1,525.8 L1001.9,528.8 L1001.7,531.7 L1001.4,534.6 L1001.0,537.6 L1000.5,540.5 L999.9,543.4 L999.1,546.3 L998.3,549.3 L997.4,552.2 L996.5,555.1 L995.5,558.0 L994.4,560.9 L993.4,563.7 L992.5,566.6 L991.5,569.5 L990.6,572.4 L989.6,575.4 L988.6,578.4 L987.6,581.3 L986.6,584.3 L985.6,587.2 L984.6,590.1 L983.7,592.9 L982.8,595.5 L982.0,598.0 L981.3,600.3 L980.6,602.5 L980.1,604.6 L979.5,606.5 L979.0,608.4 L978.5,610.3 L977.9,612.1 L977.4,614.0 L976.7,616.0 L976.0,618.0 L975.2,620.1 L974.4,622.2 L973.5,624.3 L972.6,626.4 L971.7,628.5 L970.7,630.7 L969.7,632.9 L968.7,635.2 L967.6,637.6 L966.5,640.0 L965.4,642.5 L964.2,645.2 L962.9,647.9 L961.7,650.7 L960.4,653.5 L959.0,656.3 L957.7,659.2 L956.3,662.0 L954.9,664.8 L953.5,667.5 L952.1,670.2 L950.6,672.9 L949.1,675.6 L947.6,678.3 L946.1,681.0 L944.6,683.6 L943.0,686.3 L941.4,688.9 L939.7,691.5 L938.0,694.0 L936.3,696.5 L934.6,698.8 L933.0,701.1 L931.3,703.3 L929.5,705.6 L927.7,707.9 L925.8,710.2 L923.7,712.7 L921.4,715.2 L919.0,718.0 L916.3,721.0 L913.4,724.2 L910.4,727.6 L907.2,731.1 L903.9,734.7 L900.5,738.2 L897.1,741.7 L893.7,745.0 L890.3,748.1 L887.0,751.0 L883.7,753.6 L880.4,756.1 L877.0,758.5 L873.7,760.7 L870.3,762.8 L867.0,764.9 L863.6,766.8 L860.4,768.6 L857.1,770.3 L854.0,772.0 L850.9,773.5 L848.0,774.9 L845.1,776.2 L842.2,777.4 L839.4,778.5 L836.6,779.5 L833.7,780.5 L830.9,781.5 L828.0,782.5 L825.0,783.5 L822.0,784.6 L819.0,785.6 L815.9,786.7 L812.8,787.7 L809.8,788.8 L806.6,789.7 L803.5,790.7 L800.4,791.5 L797.2,792.3 L794.0,793.0 L790.8,793.6 L787.5,794.1 L784.2,794.6 L780.8,795.0 L777.5,795.3 L774.2,795.6 L770.8,795.9 L767.5,796.1 L764.2,796.3 L761.0,796.5 L757.8,796.7 L754.7,796.9 L751.6,797.0 L748.5,797.1 L745.4,797.2 L742.4,797.3 L739.3,797.3 L736.2,797.2 L733.1,797.1 L730.0,797.0 L726.8,796.8 L723.6,796.5 L720.4,796.2 L717.2,795.9 L714.0,795.5 L710.8,795.0 L707.6,794.6 L704.4,794.1 L701.2,793.5 L698.0,793.0 L694.9,792.4 L691.7,791.8 L688.6,791.2 L685.5,790.5 L682.4,789.8 L679.3,789.1 L676.2,788.3 L673.1,787.6 L670.1,786.8 L667.0,786.0 L664.0,785.2 L661.0,784.3 L658.0,783.4 L655.0,782.5 L652.0,781.5 L649.0,780.6 L646.0,779.7 L643.0,778.7 L640.0,777.8 L637.0,777.0 L633.9,776.2 L630.9,775.3 L627.8,774.5 L624.7,773.7 L621.6,772.9 L618.4,772.1 L615.3,771.4 L612.2,770.7 L609.1,770.1 L606.0,769.5 L602.9,769.0 L599.8,768.5 L596.7,768.1 L593.6,767.7 L590.5,767.3 L587.4,767.0 L584.3,766.7 L581.2,766.5 L578.1,766.2 L575.0,766.0 L572.0,765.8 L569.0,765.6 L566.1,765.4 L563.2,765.3 L560.3,765.2 L557.3,765.1 L554.3,765.0 L551.0,765.0 L547.6,765.0 L544.0,765.0 L540.2,765.0 L536.3,765.1 L532.3,765.2 L528.1,765.3 L523.8,765.5 L519.4,765.7 L514.8,765.9 L510.0,766.1 L505.1,766.3 L500.0,766.5 L494.7,766.7 L489.2,767.0 L483.5,767.3 L477.6,767.5 L471.6,767.8 L465.5,768.2 L459.2,768.5 L452.9,768.8 L446.5,769.2 L440.0,769.5 L433.4,769.9 L426.6,770.3 L419.6,770.7 L412.5,771.1 L405.3,771.5 L398.1,772.0 L390.9,772.4 L383.8,772.8 L376.8,773.2 L370.0,773.5 L363.1,773.8 L356.0,774.2 L348.8,774.5 L341.6,774.8 L334.6,775.1 L327.7,775.3 L321.3,775.6 L315.2,775.7 L309.8,775.9 L305.0,776.0 L301.0,776.1 L297.9,776.1 L295.3,776.1 L293.2,776.0 L291.4,775.9 L289.8,775.8 L288.2,775.6 L286.5,775.4 L284.5,775.2 L282.0,775.0 L279.1,774.7 L276.1,774.4 L272.8,774.1 L269.5,773.7 L266.1,773.3 L262.7,772.9 L259.4,772.4 L256.1,771.9 L253.0,771.5 L250.0,771.0 L247.2,770.5 L244.6,770.1 L242.0,769.6 L239.6,769.1 L237.2,768.6 L234.8,768.1 L232.4,767.5 L230.0,766.9 L227.5,766.2 L225.0,765.5 L222.4,764.7 L219.7,763.9 L217.0,763.1 L214.3,762.2 L211.6,761.3 L208.9,760.3 L206.2,759.3 L203.4,758.3 L200.7,757.2 L198.0,756.0 L195.3,754.8 L192.6,753.5 L189.9,752.2 L187.2,750.9 L184.4,749.5 L181.7,748.0 L179.0,746.6 L176.3,745.1 L173.7,743.5 L171.0,742.0 L168.3,740.4 L165.7,738.8 L163.0,737.2 L160.4,735.6 L157.8,733.9 L155.2,732.2 L152.6,730.4 L150.0,728.6 L147.5,726.8 L145.0,725.0 L142.5,723.1 L140.1,721.2 L137.7,719.3 L135.4,717.3 L133.0,715.2 L130.7,713.2 L128.4,711.2 L126.1,709.1 L123.8,707.1 L121.5,705.0 L119.2,703.0 L116.8,700.9 L114.5,698.9 L112.2,696.9 L109.8,694.8 L107.6,692.7 L105.3,690.6 L103.1,688.5 L101.0,686.3 L99.0,684.0 L97.1,681.7 L95.2,679.3 L93.5,676.8 L91.8,674.3 L90.1,671.8 L88.5,669.2 L86.9,666.6 L85.2,664.1 L83.6,661.5 L82.0,659.0 L80.3,656.5 L78.7,654.0 L77.0,651.6 L75.3,649.1 L73.7,646.6 L72.1,644.1 L70.5,641.6 L68.9,639.1 L67.4,636.6 L66.0,634.0 L64.6,631.4 L63.4,628.7 L62.2,626.0 L61.0,623.3 L59.9,620.6 L58.8,617.9 L57.6,615.2 L56.5,612.4 L55.3,609.7 L54.0,607.0 L52.7,604.3 L51.2,601.6 L49.8,599.0 L48.3,596.3 L46.8,593.6 L45.3,590.9 L43.8,588.2 L42.4,585.5 L41.2,582.8 L40.0,580.0 L39.0,577.2 L38.0,574.3 L37.2,571.4 L36.4,568.5 L35.7,565.6 L35.0,562.6 L34.3,559.7 L33.6,556.8 L32.8,553.9 L32.0,551.0 L31.1,548.2 L30.2,545.4 L29.2,542.6 L28.2,539.8 L27.2,537.0 L26.3,534.2 L25.4,531.4 L24.5,528.6 L23.7,525.8 L23.0,523.0 L22.4,520.1 L21.9,517.3 L21.4,514.4 L21.0,511.5 L20.6,508.6 L20.3,505.7 L20.0,502.8 L19.7,499.9 L19.3,496.9 L19.0,494.0 L18.7,491.0 L18.3,488.1 L18.0,485.1 L17.6,482.1 L17.3,479.1 L17.0,476.0 L16.7,473.0 L16.5,470.0 L16.2,467.0 L16.0,464.0 L15.8,461.0 L15.6,458.0 L15.4,455.0 L15.2,452.0 L15.1,449.0 L14.9,446.0 L14.9,443.0 L14.8,440.0 L14.9,437.0 L15.0,434.0 L15.2,431.0 L15.5,428.0 L15.9,425.0 L16.3,422.0 L16.8,418.9 L17.2,415.9 L17.7,412.9 L18.2,409.9 L18.6,407.0 L19.0,404.0 L19.3,401.1 L19.6,398.1 L19.8,395.2 L20.0,392.3 L20.2,389.4 L20.5,386.6 L20.8,383.7 L21.1,380.8 L21.5,377.9 L22.0,375.0 L22.6,372.1 L23.2,369.2 L24.0,366.3 L24.7,363.4 L25.6,360.5 L26.4,357.6 L27.3,354.7 L28.2,351.8 L29.1,348.9 L30.0,346.0 L30.9,343.1 L31.8,340.2 L32.7,337.2 L33.7,334.3 L34.6,331.4 L35.6,328.5 L36.6,325.6 L37.7,322.7 L38.8,319.8 L40.0,317.0 L41.3,314.2 L42.6,311.3 L44.1,308.3 L45.6,305.4 L47.1,302.6 L48.6,299.8 L50.1,297.1 L51.5,294.5 L52.8,292.2 L54.0,290.0 L55.0,288.1 L55.9,286.5 L56.6,285.2 L57.2,284.0 L57.9,282.9 L58.5,281.8 L59.2,280.6 L60.0,279.3 L60.9,277.8 L62.0,276.0 L63.3,273.9 L64.7,271.7 L66.1,269.3 L67.7,266.8 L69.4,264.2 L71.1,261.5 L72.8,258.8 L74.5,256.2 L76.3,253.5 L78.0,251.0 L79.7,248.5 L81.3,246.0 L83.0,243.5 L84.6,241.0 L86.3,238.6 L88.1,236.1 L89.9,233.6 L91.8,231.1 L93.8,228.5 L96.0,226.0 L98.3,223.4 L100.7,220.8 L103.3,218.1 L105.9,215.5 L108.6,212.8 L111.4,210.2 L114.2,207.5 L117.1,205.0 L120.1,202.4 L123.0,200.0 L126.0,197.6 L129.2,195.3 L132.4,192.9 L135.7,190.7 L139.1,188.4 L142.4,186.2 L145.7,184.1 L148.9,182.0 L152.0,180.0 L155.0,178.0 L157.8,176.1 L160.5,174.2 L163.1,172.3 L165.6,170.5 L168.1,168.8 L170.5,167.1 L173.0,165.4 L175.6,163.9 L178.2,162.4 L181.0,161.0 L183.8,159.7 L186.6,158.5 L189.4,157.4 L192.3,156.4 L195.2,155.4 L198.2,154.5 L201.4,153.6 L204.7,152.8 L208.2,151.9 L212.0,151.0 L216.2,150.1 L220.9,149.2 L225.9,148.3 L231.1,147.4 L236.4,146.5 L241.7,145.7 L246.7,144.9 L251.3,144.2 L255.5,143.5 L259.0,143.0 L261.8,142.6 L264.0,142.2 L265.7,141.9 L267.1,141.7 L268.2,141.6 L269.3,141.4 L270.4,141.3 L271.6,141.2 L273.1,141.1 L275.0,141.0 L277.3,140.9 L279.8,140.9 L282.4,140.9 L285.2,140.9 L288.1,140.9 L291.0,140.9 L293.8,140.9 L296.7,140.7 L299.4,140.4Z" fill="none" stroke="#8491c8" stroke-width="16"/>
<path d="M303.9,148.3 L308.2,147.2 L312.7,145.5 L316.4,143.7 L319.8,142.1 L322.8,140.9 L326.1,139.6 L329.5,138.5 L333.0,137.4 L336.6,136.3 L340.3,135.2 L343.9,134.1 L347.6,133.1 L351.2,132.0 L354.9,130.9 L358.6,129.9 L362.3,128.8 L365.9,127.7 L369.6,126.6 L373.4,125.4 L377.0,124.3 L380.7,123.1 L384.4,121.9 L388.0,120.7 L391.7,119.5 L395.3,118.2 L398.9,117.0 L402.6,115.8 L406.2,114.5 L409.8,113.3 L413.5,112.0 L417.1,110.8 L420.7,109.5 L424.3,108.3 L428.0,107.0 L431.8,105.6 L435.5,104.0 L439.3,102.3 L441.9,101.2 L445.2,100.2 L448.6,99.3 L452.2,98.5 L455.8,97.7 L459.5,96.9 L463.2,96.1 L466.9,95.4 L470.6,94.6 L474.3,93.9 L478.1,93.2 L481.9,92.4 L485.7,91.6 L489.4,90.9 L493.0,90.1 L496.6,89.5 L500.2,88.9 L503.8,88.4 L507.4,88.0 L510.8,87.7 L514.5,87.5 L518.2,87.4 L521.8,87.4 L525.5,87.4 L529.1,87.5 L532.8,87.7 L536.6,87.9 L540.3,88.1 L543.9,88.4 L547.6,88.8 L551.2,89.3 L554.9,89.7 L558.6,90.3 L562.3,90.8 L566.1,91.4 L569.8,92.0 L573.5,92.6 L577.3,93.3 L581.0,93.9 L584.7,94.6 L588.3,95.3 L592.0,96.0 L595.7,96.8 L599.3,97.6 L603.0,98.5 L606.6,99.3 L610.2,100.2 L613.9,101.2 L617.5,102.1 L621.2,103.1 L624.8,104.1 L628.4,105.2 L632.0,106.2 L635.6,107.3 L639.1,108.4 L642.7,109.6 L646.3,110.8 L649.9,112.0 L653.6,113.2 L657.2,114.4 L660.9,115.6 L664.6,116.7 L668.2,117.9 L671.9,119.0 L675.5,120.2 L679.1,121.3 L682.8,122.5 L686.4,123.7 L690.0,124.8 L693.6,126.0 L697.2,127.2 L700.8,128.4 L704.4,129.6 L708.0,130.8 L711.7,132.1 L715.3,133.3 L719.0,134.5 L722.7,135.6 L726.4,136.8 L730.1,137.9 L733.7,139.0 L737.4,140.2 L741.0,141.3 L744.6,142.4 L748.2,143.5 L751.8,144.7 L755.4,145.8 L759.0,147.0 L762.6,148.2 L766.2,149.5 L769.9,150.7 L773.6,151.9 L777.3,153.1 L781.0,154.2 L784.8,155.3 L788.5,156.4 L792.2,157.4 L795.9,158.4 L799.5,159.5 L803.0,160.6 L806.3,161.7 L809.7,162.9 L813.1,164.2 L816.5,165.7 L819.8,167.1 L823.1,168.7 L826.5,170.3 L829.8,171.9 L833.2,173.6 L836.6,175.3 L839.9,177.0 L843.2,178.8 L846.4,180.6 L849.7,182.4 L852.9,184.3 L856.2,186.2 L859.4,188.1 L862.5,190.0 L865.7,192.0 L868.8,194.1 L871.9,196.1 L875.0,198.2 L878.0,200.3 L881.1,202.5 L884.1,204.7 L887.0,206.9 L889.9,209.1 L892.8,211.5 L895.7,213.8 L898.5,216.3 L901.3,218.7 L904.1,221.1 L906.9,223.7 L909.7,226.2 L912.4,228.7 L915.1,231.3 L917.9,233.9 L920.5,236.5 L923.1,239.1 L925.7,241.8 L928.2,244.5 L930.7,247.2 L933.2,250.0 L935.7,252.9 L938.1,255.7 L940.4,258.5 L942.7,261.4 L945.0,264.3 L947.2,267.2 L949.1,270.0 L951.2,273.1 L953.1,276.2 L955.0,279.3 L956.7,282.4 L958.5,285.6 L960.1,288.9 L961.6,292.1 L963.1,295.4 L964.5,298.7 L965.8,302.1 L967.0,305.4 L968.2,308.9 L969.3,312.5 L970.3,316.0 L971.3,319.6 L972.3,323.1 L973.1,326.7 L973.9,330.1 L974.6,333.8 L975.3,337.5 L976.0,341.2 L976.7,345.0 L977.4,348.8 L978.1,352.6 L978.9,356.4 L979.6,360.1 L980.3,363.8 L981.1,367.5 L981.8,371.3 L982.4,375.0 L983.1,378.7 L983.7,382.3 L984.3,386.1 L984.9,389.8 L985.4,393.6 L986.0,397.3 L986.5,401.1 L987.1,404.9 L987.7,408.8 L988.3,412.6 L988.9,416.4 L989.5,420.1 L990.1,423.8 L990.7,427.6 L991.2,431.4 L991.8,435.1 L992.4,438.8 L992.9,442.6 L993.4,446.3 L993.8,449.9 L994.2,453.6 L994.5,457.3 L994.7,461.0 L995.0,464.7 L995.2,468.4 L995.3,472.2 L995.4,475.8 L995.5,479.6 L995.5,483.3 L995.4,486.9 L995.3,490.6 L995.2,494.4 L995.0,498.1 L994.8,501.9 L994.6,505.7 L994.3,509.5 L994.1,513.4 L994.0,517.3 L993.8,521.1 L993.6,524.9 L993.4,528.4 L993.1,532.0 L992.7,535.6 L992.1,539.0 L991.4,542.1 L990.5,545.6 L989.5,549.0 L988.4,552.4 L987.1,556.0 L985.9,559.6 L984.6,563.2 L983.4,567.0 L982.2,570.6 L981.0,574.2 L979.8,577.8 L978.6,581.4 L977.4,585.0 L976.1,588.7 L974.9,592.3 L973.7,596.1 L972.6,599.9 L971.5,603.7 L970.5,607.4 L969.5,610.8 L968.4,614.1 L967.1,617.4 L965.8,620.8 L964.3,624.2 L962.8,627.6 L961.3,631.0 L959.7,634.5 L958.1,638.0 L956.5,641.5 L954.9,644.9 L953.4,648.4 L951.8,651.8 L950.2,655.2 L948.6,658.4 L946.9,661.8 L945.2,665.1 L943.4,668.4 L941.6,671.6 L939.8,674.9 L937.9,678.1 L936.0,681.3 L934.2,684.3 L932.2,687.4 L930.1,690.5 L928.0,693.5 L925.9,696.4 L923.6,699.3 L921.3,702.2 L919.0,705.0 L916.6,707.8 L914.2,710.6 L911.7,713.5 L909.1,716.3 L906.6,719.1 L904.1,721.9 L901.5,724.8 L899.0,727.5 L896.4,730.2 L893.9,732.9 L891.2,735.6 L888.6,738.1 L885.9,740.6 L883.3,743.0 L880.6,745.2 L877.9,747.4 L875.0,749.5 L872.1,751.6 L869.0,753.6 L865.8,755.6 L862.7,757.5 L859.5,759.3 L856.3,761.1 L853.1,762.9 L849.9,764.6 L846.7,766.2 L843.4,767.7 L840.1,769.1 L836.7,770.4 L833.3,771.6 L829.8,772.9 L826.2,774.1 L822.5,775.4 L818.9,776.6 L815.3,777.9 L811.8,779.1 L808.2,780.3 L804.7,781.4 L801.2,782.5 L797.8,783.4 L794.4,784.2 L790.9,784.9 L787.3,785.6 L783.7,786.1 L780.1,786.5 L776.6,786.9 L772.8,787.2 L769.1,787.5 L765.3,787.7 L761.5,788.0 L757.7,788.2 L754.0,788.4 L750.3,788.6 L746.6,788.7 L742.8,788.8 L739.3,788.8 L735.6,788.7 L731.9,788.6 L728.3,788.4 L724.6,788.1 L721.0,787.7 L717.4,787.3 L713.7,786.8 L710.0,786.3 L706.3,785.8 L702.6,785.2 L698.9,784.5 L695.3,783.9 L691.6,783.1 L688.0,782.4 L684.3,781.5 L680.7,780.7 L677.1,779.8 L673.4,778.9 L669.8,777.9 L666.3,777.0 L662.7,776.0 L659.1,774.9 L655.5,773.7 L651.9,772.6 L648.2,771.4 L644.4,770.3 L640.7,769.2 L636.9,768.2 L633.2,767.2 L629.5,766.2 L625.7,765.2 L621.9,764.2 L618.1,763.3 L614.3,762.5 L610.3,761.7 L606.4,760.9 L602.5,760.3 L598.6,759.8 L594.7,759.3 L590.7,758.8 L586.8,758.4 L582.9,758.1 L579.1,757.8 L575.2,757.5 L571.3,757.2 L567.5,757.0 L563.5,756.8 L559.6,756.7 L555.7,756.6 L551.8,756.5 L547.9,756.5 L544.0,756.5 L540.2,756.5 L536.3,756.6 L532.4,756.7 L528.5,756.8 L524.7,757.0 L520.8,757.1 L517.0,757.3 L513.2,757.4 L509.3,757.6 L505.5,757.8 L501.7,757.9 L497.9,758.1 L494.1,758.3 L490.2,758.4 L486.4,758.6 L482.6,758.8 L478.8,759.0 L475.0,759.2 L471.1,759.4 L467.3,759.6 L463.5,759.7 L459.7,759.9 L455.9,760.1 L452.0,760.3 L448.2,760.5 L444.4,760.8 L440.6,761.0 L436.8,761.2 L432.9,761.4 L429.1,761.6 L425.3,761.8 L421.5,762.0 L417.7,762.3 L413.8,762.5 L410.0,762.7 L406.2,763.0 L402.4,763.2 L398.6,763.4 L394.8,763.6 L391.0,763.9 L387.2,764.1 L383.4,764.3 L379.6,764.5 L375.8,764.7 L372.0,764.9 L368.2,765.1 L364.4,765.3 L360.6,765.4 L356.8,765.6 L353.0,765.8 L349.1,765.9 L345.3,766.1 L341.5,766.3 L337.7,766.4 L333.9,766.6 L330.1,766.7 L326.3,766.9 L322.5,767.0 L318.7,767.1 L314.9,767.3 L311.1,767.4 L307.3,767.4 L303.6,767.5 L299.8,767.6 L296.1,767.6 L292.7,767.5 L289.3,767.2 L285.5,766.8 L281.6,766.4 L277.9,766.1 L274.2,765.7 L270.5,765.2 L266.7,764.8 L263.0,764.3 L259.3,763.8 L255.6,763.3 L251.9,762.7 L248.2,762.1 L244.6,761.4 L241.0,760.7 L237.4,759.9 L233.9,759.1 L230.3,758.2 L226.8,757.2 L223.2,756.1 L219.7,755.0 L216.2,753.9 L212.7,752.7 L209.2,751.4 L205.9,750.1 L202.5,748.7 L199.2,747.2 L195.9,745.7 L192.6,744.1 L189.3,742.4 L186.0,740.7 L182.8,738.9 L179.5,737.1 L176.3,735.2 L173.1,733.3 L169.9,731.5 L166.7,729.5 L163.6,727.5 L160.5,725.5 L157.4,723.4 L154.4,721.3 L151.4,719.2 L148.5,717.0 L145.6,714.7 L142.8,712.4 L140.0,710.0 L137.2,707.6 L134.3,705.1 L131.5,702.6 L128.7,700.0 L125.8,697.4 L122.9,694.9 L120.0,692.4 L117.1,689.9 L114.4,687.5 L111.7,685.0 L109.1,682.4 L106.9,680.0 L104.6,677.4 L102.4,674.6 L100.4,671.9 L98.4,668.9 L96.4,665.8 L94.4,662.6 L92.3,659.3 L90.2,656.0 L88.1,652.8 L85.9,649.5 L83.8,646.4 L81.7,643.2 L79.6,640.1 L77.7,637.1 L75.8,634.0 L74.0,630.9 L72.3,627.7 L70.9,624.7 L69.4,621.3 L67.9,617.9 L66.5,614.4 L65.0,610.8 L63.4,607.1 L61.8,603.5 L59.8,599.7 L58.0,596.2 L56.1,592.8 L54.2,589.5 L52.4,586.3 L50.8,583.1 L49.2,579.9 L48.0,577.1 L46.8,573.8 L45.7,570.4 L44.8,566.9 L43.9,563.4 L43.0,559.7 L42.1,555.9 L41.1,552.1 L40.0,548.0 L38.8,544.2 L37.5,540.5 L36.2,536.9 L35.0,533.3 L33.8,529.8 L32.7,526.3 L31.8,523.1 L31.0,519.7 L30.3,516.2 L29.7,512.7 L29.2,509.1 L28.8,505.4 L28.4,501.6 L28.0,497.8 L27.6,494.0 L27.1,490.2 L26.7,486.4 L26.2,482.6 L25.8,478.9 L25.5,475.2 L25.1,471.4 L24.8,467.7 L24.5,464.0 L24.3,460.2 L24.0,456.4 L23.8,452.6 L23.6,448.9 L23.4,445.3 L23.4,441.6 L23.4,438.0 L23.5,434.4 L23.7,431.1 L24.1,427.5 L24.6,423.8 L25.2,420.2 L25.8,416.5 L26.4,412.6 L26.9,408.8 L27.5,404.7 L27.9,400.7 L28.2,396.8 L28.5,393.0 L28.8,389.2 L29.1,385.5 L29.5,381.9 L30.0,378.6 L30.7,375.1 L31.4,371.6 L32.3,368.2 L33.2,364.6 L34.3,361.0 L35.4,357.4 L36.5,353.8 L37.6,350.2 L38.7,346.5 L39.9,342.9 L41.0,339.3 L42.1,335.7 L43.3,332.2 L44.5,328.7 L45.8,325.4 L47.1,322.0 L48.6,318.7 L50.1,315.4 L51.7,312.2 L53.4,308.9 L55.1,305.6 L56.9,302.3 L58.8,299.0 L60.6,295.6 L62.5,292.2 L64.2,288.9 L66.0,285.8 L67.9,282.6 L69.9,279.4 L71.9,276.2 L73.9,273.0 L75.9,269.8 L77.9,266.6 L79.9,263.4 L82.0,260.3 L84.1,257.2 L86.2,254.0 L88.4,250.8 L90.5,247.6 L92.6,244.5 L94.7,241.5 L96.7,238.6 L98.9,235.8 L101.2,233.0 L103.5,230.3 L106.0,227.6 L108.6,224.9 L111.1,222.3 L113.8,219.7 L116.4,217.1 L119.1,214.6 L121.8,212.2 L124.6,209.7 L127.4,207.4 L130.2,205.1 L133.1,203.0 L136.0,200.8 L139.0,198.7 L142.1,196.6 L145.2,194.6 L148.4,192.5 L151.6,190.4 L154.8,188.3 L158.1,186.2 L161.3,184.0 L164.6,181.7 L167.7,179.4 L170.8,177.2 L173.8,175.1 L176.8,173.1 L179.8,171.2 L182.6,169.7 L185.7,168.2 L189.0,166.7 L192.3,165.4 L195.5,164.3 L198.9,163.2 L202.4,162.2 L206.0,161.2 L209.5,160.3 L213.2,159.5 L216.8,158.7 L220.3,157.9 L224.0,157.3 L227.6,156.6 L231.4,155.9 L235.1,155.3 L238.8,154.7 L242.6,154.1 L246.4,153.5 L250.1,153.0 L253.9,152.4 L257.7,151.8 L261.5,151.2 L265.3,150.6 L268.9,150.1 L272.2,149.7 L275.7,149.5 L279.2,149.4 L282.9,149.4 L286.7,149.4 L290.6,149.4 L294.9,149.3 L299.1,149.0Z" fill="none" stroke="#2f2f2f" stroke-width="0.8"/>
<g fill="#fdf68a" stroke="#2a2a1c" stroke-width="0.9">
<circle cx="305.3" cy="130.2" r="6.0"/>
<circle cx="312.1" cy="145.7" r="6.0"/>
<circle cx="319.9" cy="123.8" r="6.0"/>
<circle cx="325.5" cy="139.8" r="6.0"/>
<circle cx="334.8" cy="119.1" r="6.0"/>
<circle cx="339.7" cy="135.4" r="6.0"/>
<circle cx="349.5" cy="114.8" r="6.0"/>
<circle cx="354.3" cy="131.1" r="6.0"/>
<circle cx="364.1" cy="110.5" r="6.0"/>
<circle cx="369.0" cy="126.8" r="6.0"/>
<circle cx="378.5" cy="105.9" r="6.0"/>
<circle cx="383.8" cy="122.1" r="6.0"/>
<circle cx="392.9" cy="101.1" r="6.0"/>
<circle cx="398.3" cy="117.2" r="6.0"/>
<circle cx="407.3" cy="96.2" r="6.0"/>
<circle cx="412.8" cy="112.3" r="6.0"/>
<circle cx="421.7" cy="91.2" r="6.0"/>
<circle cx="427.3" cy="107.2" r="6.0"/>
<circle cx="435.6" cy="85.4" r="6.0"/>
<circle cx="441.6" cy="101.3" r="6.0"/>
<circle cx="451.6" cy="81.2" r="6.0"/>
<circle cx="455.2" cy="97.8" r="6.0"/>
<circle cx="466.7" cy="78.1" r="6.0"/>
<circle cx="470.0" cy="94.8" r="6.0"/>
<circle cx="481.6" cy="75.1" r="6.0"/>
<circle cx="485.0" cy="91.8" r="6.0"/>
<circle cx="497.1" cy="72.2" r="6.0"/>
<circle cx="499.6" cy="89.0" r="6.0"/>
<circle cx="513.2" cy="70.6" r="6.0"/>
<circle cx="513.8" cy="87.6" r="6.0"/>
<circle cx="529.0" cy="70.5" r="6.0"/>
<circle cx="528.6" cy="87.5" r="6.0"/>
<circle cx="544.8" cy="71.4" r="6.0"/>
<circle cx="543.3" cy="88.4" r="6.0"/>
<circle cx="560.5" cy="73.4" r="6.0"/>
<circle cx="558.0" cy="90.2" r="6.0"/>
<circle cx="575.7" cy="75.7" r="6.0"/>
<circle cx="573.0" cy="92.5" r="6.0"/>
<circle cx="591.0" cy="78.5" r="6.0"/>
<circle cx="587.7" cy="95.2" r="6.0"/>
<circle cx="606.2" cy="81.7" r="6.0"/>
<circle cx="602.4" cy="98.3" r="6.0"/>
<circle cx="621.3" cy="85.5" r="6.0"/>
<circle cx="616.9" cy="102.0" r="6.0"/>
<circle cx="636.2" cy="89.7" r="6.0"/>
<circle cx="631.4" cy="106.0" r="6.0"/>
<circle cx="651.0" cy="94.4" r="6.0"/>
<circle cx="645.7" cy="110.6" r="6.0"/>
<circle cx="665.5" cy="99.2" r="6.0"/>
<circle cx="660.3" cy="115.4" r="6.0"/>
<circle cx="680.0" cy="103.8" r="6.0"/>
<circle cx="674.9" cy="120.0" r="6.0"/>
<circle cx="694.6" cy="108.5" r="6.0"/>
<circle cx="689.4" cy="124.6" r="6.0"/>
<circle cx="709.2" cy="113.3" r="6.0"/>
<circle cx="703.8" cy="129.4" r="6.0"/>
<circle cx="723.6" cy="118.1" r="6.0"/>
<circle cx="718.4" cy="134.3" r="6.0"/>
<circle cx="738.1" cy="122.6" r="6.0"/>
<circle cx="733.1" cy="138.9" r="6.0"/>
<circle cx="752.8" cy="127.1" r="6.0"/>
<circle cx="747.6" cy="143.3" r="6.0"/>
<circle cx="767.4" cy="131.9" r="6.0"/>
<circle cx="762.0" cy="148.0" r="6.0"/>
<circle cx="781.8" cy="136.7" r="6.0"/>
<circle cx="776.6" cy="152.9" r="6.0"/>
<circle cx="796.1" cy="140.9" r="6.0"/>
<circle cx="791.6" cy="157.3" r="6.0"/>
<circle cx="811.2" cy="145.4" r="6.0"/>
<circle cx="805.8" cy="161.5" r="6.0"/>
<circle cx="826.2" cy="151.4" r="6.0"/>
<circle cx="819.2" cy="166.8" r="6.0"/>
<circle cx="840.3" cy="158.1" r="6.0"/>
<circle cx="832.6" cy="173.3" r="6.0"/>
<circle cx="854.1" cy="165.4" r="6.0"/>
<circle cx="845.9" cy="180.3" r="6.0"/>
<circle cx="867.6" cy="173.2" r="6.0"/>
<circle cx="858.8" cy="187.8" r="6.0"/>
<circle cx="880.8" cy="181.6" r="6.0"/>
<circle cx="871.4" cy="195.8" r="6.0"/>
<circle cx="893.7" cy="190.6" r="6.0"/>
<circle cx="883.6" cy="204.3" r="6.0"/>
<circle cx="906.1" cy="200.4" r="6.0"/>
<circle cx="895.2" cy="213.4" r="6.0"/>
<circle cx="917.8" cy="210.6" r="6.0"/>
<circle cx="906.4" cy="223.2" r="6.0"/>
<circle cx="929.2" cy="221.3" r="6.0"/>
<circle cx="917.4" cy="233.5" r="6.0"/>
<circle cx="940.2" cy="232.5" r="6.0"/>
<circle cx="927.8" cy="244.1" r="6.0"/>
<circle cx="950.6" cy="244.2" r="6.0"/>
<circle cx="937.7" cy="255.2" r="6.0"/>
<circle cx="960.5" cy="256.6" r="6.0"/>
<circle cx="946.8" cy="266.7" r="6.0"/>
<circle cx="969.3" cy="270.1" r="6.0"/>
<circle cx="954.7" cy="278.8" r="6.0"/>
<circle cx="976.8" cy="284.3" r="6.0"/>
<circle cx="961.4" cy="291.6" r="6.0"/>
<circle cx="982.9" cy="299.4" r="6.0"/>
<circle cx="966.8" cy="304.8" r="6.0"/>
<circle cx="987.6" cy="314.5" r="6.0"/>
<circle cx="971.2" cy="318.9" r="6.0"/>
<circle cx="991.2" cy="330.0" r="6.0"/>
<circle cx="974.5" cy="333.2" r="6.0"/>
<circle cx="994.0" cy="345.0" r="6.0"/>
<circle cx="977.3" cy="348.2" r="6.0"/>
<circle cx="996.9" cy="360.0" r="6.0"/>
<circle cx="980.2" cy="363.2" r="6.0"/>
<circle cx="999.7" cy="375.2" r="6.0"/>
<circle cx="983.0" cy="378.1" r="6.0"/>
<circle cx="1002.1" cy="390.4" r="6.0"/>
<circle cx="985.3" cy="392.9" r="6.0"/>
<circle cx="1004.4" cy="405.5" r="6.0"/>
<circle cx="987.6" cy="408.1" r="6.0"/>
<circle cx="1006.8" cy="420.6" r="6.0"/>
<circle cx="990.0" cy="423.1" r="6.0"/>
<circle cx="1009.1" cy="435.8" r="6.0"/>
<circle cx="992.3" cy="438.2" r="6.0"/>
<circle cx="1011.0" cy="451.4" r="6.0"/>
<circle cx="994.1" cy="452.9" r="6.0"/>
<circle cx="1012.1" cy="467.0" r="6.0"/>
<circle cx="995.1" cy="467.8" r="6.0"/>
<circle cx="1012.5" cy="482.7" r="6.0"/>
<circle cx="995.5" cy="482.6" r="6.0"/>
<circle cx="1012.0" cy="498.4" r="6.0"/>
<circle cx="995.0" cy="497.5" r="6.0"/>
<circle cx="1011.1" cy="513.6" r="6.0"/>
<circle cx="994.1" cy="512.8" r="6.0"/>
<circle cx="1010.4" cy="529.0" r="6.0"/>
<circle cx="993.5" cy="528.0" r="6.0"/>
<circle cx="1008.1" cy="545.6" r="6.0"/>
<circle cx="991.6" cy="541.5" r="6.0"/>
<circle cx="1003.4" cy="561.0" r="6.0"/>
<circle cx="987.4" cy="555.4" r="6.0"/>
<circle cx="998.5" cy="575.3" r="6.0"/>
<circle cx="982.4" cy="570.0" r="6.0"/>
<circle cx="993.7" cy="589.9" r="6.0"/>
<circle cx="977.6" cy="584.4" r="6.0"/>
<circle cx="989.0" cy="604.1" r="6.0"/>
<circle cx="972.7" cy="599.3" r="6.0"/>
<circle cx="984.6" cy="619.2" r="6.0"/>
<circle cx="968.6" cy="613.5" r="6.0"/>
<circle cx="978.6" cy="633.9" r="6.0"/>
<circle cx="963.1" cy="627.0" r="6.0"/>
<circle cx="972.3" cy="647.9" r="6.0"/>
<circle cx="956.8" cy="640.9" r="6.0"/>
<circle cx="965.8" cy="661.9" r="6.0"/>
<circle cx="950.5" cy="654.6" r="6.0"/>
<circle cx="958.7" cy="675.9" r="6.0"/>
<circle cx="943.7" cy="667.8" r="6.0"/>
<circle cx="950.9" cy="689.5" r="6.0"/>
<circle cx="936.4" cy="680.8" r="6.0"/>
<circle cx="942.2" cy="702.8" r="6.0"/>
<circle cx="928.3" cy="693.0" r="6.0"/>
<circle cx="932.5" cy="715.4" r="6.0"/>
<circle cx="919.4" cy="704.6" r="6.0"/>
<circle cx="922.2" cy="727.2" r="6.0"/>
<circle cx="909.5" cy="715.8" r="6.0"/>
<circle cx="911.8" cy="738.6" r="6.0"/>
<circle cx="899.4" cy="727.0" r="6.0"/>
<circle cx="900.9" cy="749.9" r="6.0"/>
<circle cx="889.0" cy="737.7" r="6.0"/>
<circle cx="888.6" cy="760.6" r="6.0"/>
<circle cx="878.4" cy="747.0" r="6.0"/>
<circle cx="875.4" cy="769.7" r="6.0"/>
<circle cx="866.4" cy="755.3" r="6.0"/>
<circle cx="861.7" cy="777.6" r="6.0"/>
<circle cx="853.6" cy="762.6" r="6.0"/>
<circle cx="847.1" cy="784.6" r="6.0"/>
<circle cx="840.7" cy="768.8" r="6.0"/>
<circle cx="832.3" cy="790.0" r="6.0"/>
<circle cx="826.8" cy="773.9" r="6.0"/>
<circle cx="817.8" cy="795.0" r="6.0"/>
<circle cx="812.4" cy="778.9" r="6.0"/>
<circle cx="802.7" cy="799.7" r="6.0"/>
<circle cx="798.3" cy="783.3" r="6.0"/>
<circle cx="786.7" cy="802.8" r="6.0"/>
<circle cx="784.4" cy="786.0" r="6.0"/>
<circle cx="770.9" cy="804.4" r="6.0"/>
<circle cx="769.7" cy="787.4" r="6.0"/>
<circle cx="755.5" cy="805.3" r="6.0"/>
<circle cx="754.6" cy="788.4" r="6.0"/>
<circle cx="739.8" cy="805.8" r="6.0"/>
<circle cx="739.8" cy="788.8" r="6.0"/>
<circle cx="723.8" cy="805.1" r="6.0"/>
<circle cx="725.2" cy="788.1" r="6.0"/>
<circle cx="708.1" cy="803.2" r="6.0"/>
<circle cx="710.6" cy="786.4" r="6.0"/>
<circle cx="692.7" cy="800.7" r="6.0"/>
<circle cx="695.9" cy="784.0" r="6.0"/>
<circle cx="677.4" cy="797.4" r="6.0"/>
<circle cx="681.3" cy="780.8" r="6.0"/>
<circle cx="662.3" cy="793.5" r="6.0"/>
<circle cx="666.8" cy="777.1" r="6.0"/>
<circle cx="647.4" cy="789.0" r="6.0"/>
<circle cx="652.5" cy="772.8" r="6.0"/>
<circle cx="633.1" cy="784.7" r="6.0"/>
<circle cx="637.5" cy="768.3" r="6.0"/>
<circle cx="618.5" cy="780.9" r="6.0"/>
<circle cx="622.6" cy="764.4" r="6.0"/>
<circle cx="604.2" cy="777.8" r="6.0"/>
<circle cx="607.0" cy="761.0" r="6.0"/>
<circle cx="589.6" cy="775.8" r="6.0"/>
<circle cx="591.3" cy="758.9" r="6.0"/>
<circle cx="574.6" cy="774.5" r="6.0"/>
<circle cx="575.9" cy="757.5" r="6.0"/>
<circle cx="559.7" cy="773.7" r="6.0"/>
<circle cx="560.2" cy="756.7" r="6.0"/>
<circle cx="544.7" cy="773.5" r="6.0"/>
<circle cx="544.7" cy="756.5" r="6.0"/>
<circle cx="529.7" cy="773.8" r="6.0"/>
<circle cx="529.2" cy="756.8" r="6.0"/>
<circle cx="514.5" cy="774.4" r="6.0"/>
<circle cx="513.8" cy="757.4" r="6.0"/>
<circle cx="499.3" cy="775.0" r="6.0"/>
<circle cx="498.5" cy="758.1" r="6.0"/>
<circle cx="484.0" cy="775.7" r="6.0"/>
<circle cx="483.2" cy="758.8" r="6.0"/>
<circle cx="468.8" cy="776.5" r="6.0"/>
<circle cx="468.0" cy="759.5" r="6.0"/>
<circle cx="453.6" cy="777.3" r="6.0"/>
<circle cx="452.7" cy="760.3" r="6.0"/>
<circle cx="438.3" cy="778.1" r="6.0"/>
<circle cx="437.4" cy="761.1" r="6.0"/>
<circle cx="423.1" cy="779.0" r="6.0"/>
<circle cx="422.1" cy="762.0" r="6.0"/>
<circle cx="407.9" cy="779.9" r="6.0"/>
<circle cx="406.9" cy="762.9" r="6.0"/>
<circle cx="392.6" cy="780.8" r="6.0"/>
<circle cx="391.6" cy="763.8" r="6.0"/>
<circle cx="377.3" cy="781.6" r="6.0"/>
<circle cx="376.4" cy="764.7" r="6.0"/>
<circle cx="362.0" cy="782.4" r="6.0"/>
<circle cx="361.2" cy="765.4" r="6.0"/>
<circle cx="346.7" cy="783.1" r="6.0"/>
<circle cx="346.0" cy="766.1" r="6.0"/>
<circle cx="331.4" cy="783.7" r="6.0"/>
<circle cx="330.7" cy="766.7" r="6.0"/>
<circle cx="316.1" cy="784.2" r="6.0"/>
<circle cx="315.5" cy="767.2" r="6.0"/>
<circle cx="300.6" cy="784.6" r="6.0"/>
<circle cx="300.5" cy="767.6" r="6.0"/>
<circle cx="284.4" cy="783.8" r="6.0"/>
<circle cx="286.2" cy="766.9" r="6.0"/>
<circle cx="269.1" cy="782.2" r="6.0"/>
<circle cx="271.0" cy="765.3" r="6.0"/>
<circle cx="253.7" cy="780.2" r="6.0"/>
<circle cx="256.2" cy="763.4" r="6.0"/>
<circle cx="238.2" cy="777.5" r="6.0"/>
<circle cx="241.5" cy="760.8" r="6.0"/>
<circle cx="222.7" cy="773.7" r="6.0"/>
<circle cx="227.4" cy="757.3" r="6.0"/>
<circle cx="207.7" cy="768.9" r="6.0"/>
<circle cx="213.3" cy="752.9" r="6.0"/>
<circle cx="192.8" cy="763.0" r="6.0"/>
<circle cx="199.8" cy="747.5" r="6.0"/>
<circle cx="178.6" cy="756.0" r="6.0"/>
<circle cx="186.6" cy="741.0" r="6.0"/>
<circle cx="165.0" cy="748.3" r="6.0"/>
<circle cx="173.6" cy="733.7" r="6.0"/>
<circle cx="151.7" cy="740.0" r="6.0"/>
<circle cx="161.0" cy="725.8" r="6.0"/>
<circle cx="138.7" cy="730.9" r="6.0"/>
<circle cx="149.0" cy="717.4" r="6.0"/>
<circle cx="126.5" cy="720.8" r="6.0"/>
<circle cx="137.7" cy="708.0" r="6.0"/>
<circle cx="115.0" cy="710.6" r="6.0"/>
<circle cx="126.3" cy="697.9" r="6.0"/>
<circle cx="103.4" cy="700.5" r="6.0"/>
<circle cx="114.9" cy="687.9" r="6.0"/>
<circle cx="91.9" cy="688.7" r="6.0"/>
<circle cx="105.0" cy="677.9" r="6.0"/>
<circle cx="82.4" cy="675.5" r="6.0"/>
<circle cx="96.7" cy="666.3" r="6.0"/>
<circle cx="74.3" cy="662.7" r="6.0"/>
<circle cx="88.4" cy="653.3" r="6.0"/>
<circle cx="65.7" cy="650.0" r="6.0"/>
<circle cx="79.9" cy="640.7" r="6.0"/>
<circle cx="57.5" cy="636.1" r="6.0"/>
<circle cx="72.6" cy="628.3" r="6.0"/>
<circle cx="51.0" cy="621.4" r="6.0"/>
<circle cx="66.7" cy="615.0" r="6.0"/>
<circle cx="45.1" cy="608.2" r="6.0"/>
<circle cx="60.1" cy="600.3" r="6.0"/>
<circle cx="37.7" cy="594.9" r="6.0"/>
<circle cx="52.7" cy="586.9" r="6.0"/>
<circle cx="30.8" cy="579.6" r="6.0"/>
<circle cx="47.0" cy="574.4" r="6.0"/>
<circle cx="26.6" cy="564.2" r="6.0"/>
<circle cx="43.2" cy="560.3" r="6.0"/>
<circle cx="22.8" cy="550.2" r="6.0"/>
<circle cx="39.0" cy="544.9" r="6.0"/>
<circle cx="17.8" cy="535.8" r="6.0"/>
<circle cx="34.0" cy="530.4" r="6.0"/>
<circle cx="13.7" cy="519.9" r="6.0"/>
<circle cx="30.4" cy="516.8" r="6.0"/>
<circle cx="11.6" cy="504.1" r="6.0"/>
<circle cx="28.5" cy="502.3" r="6.0"/>
<circle cx="9.9" cy="489.0" r="6.0"/>
<circle cx="26.7" cy="487.0" r="6.0"/>
<circle cx="8.2" cy="473.6" r="6.0"/>
<circle cx="25.2" cy="472.1" r="6.0"/>
<circle cx="7.1" cy="458.1" r="6.0"/>
<circle cx="24.0" cy="457.0" r="6.0"/>
<circle cx="6.4" cy="442.4" r="6.0"/>
<circle cx="23.4" cy="442.3" r="6.0"/>
<circle cx="7.2" cy="426.0" r="6.0"/>
<circle cx="24.0" cy="428.1" r="6.0"/>
<circle cx="9.5" cy="410.6" r="6.0"/>
<circle cx="26.3" cy="413.3" r="6.0"/>
<circle cx="11.2" cy="396.1" r="6.0"/>
<circle cx="28.2" cy="397.5" r="6.0"/>
<circle cx="12.6" cy="380.6" r="6.0"/>
<circle cx="29.4" cy="382.5" r="6.0"/>
<circle cx="15.6" cy="364.5" r="6.0"/>
<circle cx="32.1" cy="368.6" r="6.0"/>
<circle cx="20.0" cy="349.4" r="6.0"/>
<circle cx="36.3" cy="354.4" r="6.0"/>
<circle cx="24.6" cy="334.8" r="6.0"/>
<circle cx="40.8" cy="339.9" r="6.0"/>
<circle cx="29.7" cy="319.9" r="6.0"/>
<circle cx="45.6" cy="325.8" r="6.0"/>
<circle cx="36.2" cy="305.1" r="6.0"/>
<circle cx="51.4" cy="312.7" r="6.0"/>
<circle cx="43.6" cy="291.3" r="6.0"/>
<circle cx="58.5" cy="299.5" r="6.0"/>
<circle cx="51.0" cy="277.8" r="6.0"/>
<circle cx="65.7" cy="286.3" r="6.0"/>
<circle cx="59.1" cy="264.5" r="6.0"/>
<circle cx="73.5" cy="273.5" r="6.0"/>
<circle cx="67.5" cy="251.4" r="6.0"/>
<circle cx="81.7" cy="260.8" r="6.0"/>
<circle cx="76.0" cy="238.7" r="6.0"/>
<circle cx="90.1" cy="248.1" r="6.0"/>
<circle cx="85.3" cy="225.6" r="6.0"/>
<circle cx="98.5" cy="236.3" r="6.0"/>
<circle cx="95.8" cy="213.6" r="6.0"/>
<circle cx="108.1" cy="225.4" r="6.0"/>
<circle cx="107.1" cy="202.6" r="6.0"/>
<circle cx="118.6" cy="215.1" r="6.0"/>
<circle cx="119.2" cy="192.2" r="6.0"/>
<circle cx="129.7" cy="205.5" r="6.0"/>
<circle cx="132.1" cy="182.9" r="6.0"/>
<circle cx="141.6" cy="197.0" r="6.0"/>
<circle cx="145.0" cy="174.4" r="6.0"/>
<circle cx="154.3" cy="188.7" r="6.0"/>
<circle cx="157.3" cy="166.0" r="6.0"/>
<circle cx="167.2" cy="179.8" r="6.0"/>
<circle cx="170.4" cy="157.1" r="6.0"/>
<circle cx="179.3" cy="171.6" r="6.0"/>
<circle cx="185.5" cy="149.8" r="6.0"/>
<circle cx="191.7" cy="165.7" r="6.0"/>
<circle cx="201.0" cy="144.9" r="6.0"/>
<circle cx="205.3" cy="161.4" r="6.0"/>
<circle cx="216.4" cy="141.4" r="6.0"/>
<circle cx="219.7" cy="158.1" r="6.0"/>
<circle cx="231.7" cy="138.7" r="6.0"/>
<circle cx="234.5" cy="155.4" r="6.0"/>
<circle cx="246.9" cy="136.3" r="6.0"/>
<circle cx="249.5" cy="153.1" r="6.0"/>
<circle cx="262.0" cy="133.9" r="6.0"/>
<circle cx="264.6" cy="150.7" r="6.0"/>
<circle cx="278.4" cy="132.4" r="6.0"/>
<circle cx="278.6" cy="149.4" r="6.0"/>
<circle cx="293.6" cy="132.4" r="6.0"/>
<circle cx="294.0" cy="149.4" r="6.0"/>
</g>
<g transform="translate(303,139.8) rotate(-14.4)">
<path d="M-12.6,-20 C-9,-26.5 9,-26.5 12.6,-20 C13.5,-6 8,8 9.5,21 C6,26.5 -6,26.5 -9.5,21 C-8,8 -13.5,-6 -12.6,-20Z" fill="#ebb4c2" stroke="#6a3040" stroke-width="0.9"/>
<path d="M-10.8,-20.3 C-5,-24.5 5,-24.5 10.8,-20.3 C6.5,-13 3.6,-5 3.2,5 L3.4,24 L-1.4,24.6 L-2.4,5 C-3.4,-5 -6.5,-13 -10.8,-20.3Z" fill="#c0405f" stroke="#7a1f38" stroke-width="0.8"/>
<path d="M-6,-18.6 C-3.5,-12 -1.2,-4 -0.6,6 L-0.2,22 L0.8,22 L0.6,6 C0.6,-4 0.2,-12 0.5,-19.3 C-1.5,-20 -4,-19.6 -6,-18.6Z" fill="#d4647f"/>
<path d="M-10.8,-20.3 C-5,-17 5,-17 10.8,-20.3" fill="none" stroke="#7a1f38" stroke-width="0.7"/>
</g>
<circle cx="273.8" cy="68.0" r="5" fill="#db6a4e"/><circle cx="273.8" cy="68.0" r="3.2" fill="#c65440"/>
<circle cx="264.0" cy="77.5" r="5" fill="#db6a4e"/><circle cx="264.0" cy="77.5" r="3.2" fill="#c65440"/>
<circle cx="275.0" cy="80.0" r="5" fill="#db6a4e"/><circle cx="275.0" cy="80.0" r="3.2" fill="#c65440"/>
<circle cx="290.0" cy="88.0" r="5" fill="#db6a4e"/><circle cx="290.0" cy="88.0" r="3.2" fill="#c65440"/>
<circle cx="279.0" cy="98.0" r="5" fill="#db6a4e"/><circle cx="279.0" cy="98.0" r="3.2" fill="#c65440"/>
<circle cx="291.0" cy="100.0" r="5" fill="#db6a4e"/><circle cx="291.0" cy="100.0" r="3.2" fill="#c65440"/>
<circle cx="320.8" cy="168.8" r="5" fill="#db6a4e"/><circle cx="320.8" cy="168.8" r="3.2" fill="#c65440"/>
<circle cx="310.5" cy="178.8" r="5" fill="#db6a4e"/><circle cx="310.5" cy="178.8" r="3.2" fill="#c65440"/>
<circle cx="321.8" cy="180.5" r="5" fill="#db6a4e"/><circle cx="321.8" cy="180.5" r="3.2" fill="#c65440"/>
<circle cx="338.0" cy="182.5" r="5" fill="#db6a4e"/><circle cx="338.0" cy="182.5" r="3.2" fill="#c65440"/>
<circle cx="327.0" cy="191.8" r="5" fill="#db6a4e"/><circle cx="327.0" cy="191.8" r="3.2" fill="#c65440"/>
<circle cx="339.0" cy="193.8" r="5" fill="#db6a4e"/><circle cx="339.0" cy="193.8" r="3.2" fill="#c65440"/>
<path d="M204.0,412.0 L204.4,411.3 L204.9,410.3 L205.5,409.2 L206.1,407.9 L206.8,406.6 L207.6,405.2 L208.3,404.0 L209.0,403.0 L209.6,402.2 L210.0,401.6 L210.4,401.2 L210.8,400.8 L211.4,400.2 L212.2,399.5 L213.3,398.4 L214.8,397.0 L216.8,395.1 L219.2,392.7 L221.9,390.0 L224.9,387.1 L228.0,384.2 L231.1,381.2 L234.1,378.5 L237.0,376.0 L239.8,373.7 L242.6,371.5 L245.4,369.4 L248.3,367.4 L251.1,365.4 L253.8,363.5 L256.4,361.7 L259.0,360.0 L261.4,358.4 L263.5,356.9 L265.6,355.6 L267.6,354.3 L269.7,353.1 L271.9,351.8 L274.3,350.4 L277.0,349.0 L280.0,347.4 L283.2,345.8 L286.6,344.1 L290.1,342.3 L293.7,340.6 L297.4,339.0 L301.2,337.4 L305.0,336.0 L309.0,334.7 L313.2,333.5 L317.6,332.4 L322.0,331.3 L326.4,330.3 L330.5,329.4 L334.4,328.6 L337.8,327.9 L340.8,327.3 L343.3,326.8 L345.6,326.4 L347.7,326.1 L349.7,325.8 L351.7,325.6 L353.8,325.5 L356.0,325.3 L358.4,325.2 L360.8,325.1 L363.2,325.0 L365.6,325.0 L368.1,325.0 L370.5,325.1 L373.0,325.2 L375.4,325.3 L377.8,325.5 L380.1,325.7 L382.4,326.0 L384.7,326.4 L387.1,326.7 L389.6,327.1 L392.2,327.5 L394.9,327.9 L397.8,328.3 L400.9,328.7 L404.1,329.1 L407.4,329.5 L410.8,330.0 L414.2,330.5 L417.5,331.1 L420.8,331.8 L424.1,332.7 L427.6,333.7 L431.1,334.8 L434.6,335.9 L438.0,337.1 L441.2,338.2 L444.2,339.3 L446.8,340.2 L449.0,341.0 L450.9,341.6 L452.5,342.2 L453.9,342.7 L455.3,343.2 L456.7,343.8 L458.2,344.6 L460.0,345.5 L462.0,346.6 L464.0,347.9 L466.2,349.3 L468.4,350.7 L470.6,352.2 L472.9,353.8 L475.1,355.3 L477.3,356.8 L479.5,358.2 L481.6,359.7 L483.8,361.1 L485.9,362.6 L488.0,364.1 L490.2,365.6 L492.3,367.2 L494.5,368.8 L496.7,370.5 L498.8,372.2 L501.0,374.0 L503.2,375.8 L505.3,377.7 L507.5,379.6 L509.6,381.5 L511.8,383.5 L514.0,385.5 L516.2,387.6 L518.4,389.8 L520.6,392.0 L522.8,394.2 L524.9,396.4 L527.0,398.6 L529.0,400.8 L530.9,403.0 L532.8,405.1 L534.6,407.3 L536.4,409.4 L538.1,411.5 L539.8,413.7 L541.4,415.8 L542.9,418.0 L544.4,420.1 L545.8,422.3 L547.1,424.4 L548.4,426.5 L549.6,428.7 L550.8,430.9 L552.0,433.1 L553.2,435.3 L554.4,437.6 L555.6,440.0 L556.7,442.4 L557.9,444.9 L559.0,447.3 L560.0,449.7 L560.9,452.1 L561.8,454.3 L562.5,456.4 L563.2,458.3 L563.7,460.2 L564.2,462.0 L564.7,463.9 L565.2,465.8 L565.6,467.8 L566.2,470.0 L566.8,472.3 L567.5,474.7 L568.1,477.2 L568.8,479.8 L569.5,482.5 L570.1,485.2 L570.7,488.1 L571.2,491.0 L571.7,494.0 L572.1,497.2 L572.5,500.4 L572.8,503.7 L573.2,507.1 L573.4,510.6 L573.6,514.2 L573.7,518.0 L573.7,522.0 L573.7,526.4 L573.6,530.9 L573.5,535.5 L573.3,540.1 L573.0,544.5 L572.7,548.7 L572.4,552.5 L572.0,556.0 L571.4,559.5 L570.8,562.8 L570.1,565.9 L569.5,568.7 L568.9,571.2 L568.4,573.3 L568.0,575.0 L400,600 L240,480 Z" fill="#ffd966" stroke="#3a3a3a" stroke-width="0.8"/>
<path d="M562.1,549.5 L562.3,560.2 L561.9,570.8 L560.8,581.5 L559.2,592.0 L556.9,602.5 L554.1,612.9 L550.6,623.0 L546.5,633.0 L541.9,642.7 L536.7,652.1 L531.0,661.1 L524.7,669.9 L518.0,678.2 L510.8,686.1 L503.1,693.6 L495.1,700.6 L486.7,707.1 L478.0,713.2 L469.0,718.7 L459.7,723.8 L450.2,728.3 L440.5,732.3 L430.6,735.9 L420.6,738.9 L410.5,741.4 L400.3,743.4 L390.0,744.9 L379.7,746.0 L369.4,746.6 L359.1,746.6 L348.8,746.3 L338.5,745.4 L328.3,744.1 L318.1,742.3 L308.1,740.0 L298.1,737.3 L288.3,734.1 L278.6,730.4 L269.0,726.3 L259.7,721.7 L250.6,716.6 L241.8,711.1 L233.2,705.1 L224.9,698.6 L217.0,691.7 L209.4,684.4 L202.2,676.6 L195.5,668.5 L189.2,659.9 L183.4,651.1 L178.1,641.9 L173.3,632.4 L169.0,622.6 L165.4,612.6 L162.3,602.4 L159.7,592.0 L157.8,581.5 L156.5,571.0 L155.7,560.3 L155.6,549.7 L156.0,539.0 L157.1,528.5 L158.7,518.0 L160.8,507.6 L163.5,497.3 L166.8,487.2 L170.5,477.4 L174.8,467.7 L179.6,458.3 L184.8,449.2 L190.5,440.3 L196.6,431.8 L203.1,423.6 L210.1,415.7 L217.4,408.2 L225.1,401.1 L233.1,394.4 L241.5,388.2 L250.2,382.3 L259.1,377.0 L268.3,372.1 L277.8,367.6 L287.4,363.7 L297.3,360.3 L307.3,357.5 L317.4,355.1 L327.7,353.3 L338.0,352.1 L348.4,351.4 L358.7,351.3 L369.1,351.7 L379.4,352.6 L389.7,354.1 L399.8,356.1 L409.9,358.7 L419.7,361.7 L429.4,365.3 L438.9,369.3 L448.2,373.8 L457.2,378.8 L466.0,384.2 L474.5,390.0 L482.7,396.3 L490.6,402.9 L498.2,409.9 L505.4,417.3 L512.3,425.0 L518.8,433.0 L524.9,441.4 L530.7,450.0 L536.0,459.0 L540.9,468.2 L545.3,477.6 L549.2,487.3 L552.7,497.2 L555.7,507.4 L558.1,517.6 L560.0,528.0 L561.3,538.5 L562.1,549.1Z" fill="#ffd966"/>
<path d="M551.7,568.0 L551.8,576.8 L551.5,585.7 L550.7,594.5 L549.3,603.3 L547.5,612.0 L545.2,620.5 L542.4,629.0 L539.1,637.3 L535.4,645.4 L531.2,653.3 L526.6,660.9 L521.5,668.2 L516.0,675.3 L510.1,682.0 L503.9,688.4 L497.3,694.4 L490.4,700.0 L483.2,705.2 L475.7,710.0 L468.0,714.3 L460.0,718.2 L451.9,721.7 L443.6,724.7 L435.2,727.2 L426.7,729.3 L418.1,730.9 L409.5,732.1 L400.8,732.8 L392.2,733.1 L383.5,732.9 L374.9,732.2 L366.3,731.2 L357.9,729.7 L349.5,727.8 L341.3,725.5 L333.2,722.8 L325.3,719.7 L317.5,716.3 L309.9,712.4 L302.5,708.2 L295.4,703.7 L288.4,698.9 L281.7,693.7 L275.3,688.2 L269.1,682.4 L263.2,676.3 L257.7,669.9 L252.4,663.3 L247.4,656.4 L242.8,649.2 L238.6,641.8 L234.7,634.3 L231.2,626.5 L228.1,618.5 L225.4,610.4 L223.1,602.1 L221.2,593.7 L219.8,585.2 L218.9,576.6 L218.4,568.0 L218.3,559.3 L218.8,550.7 L219.7,542.1 L221.0,533.5 L222.9,525.0 L225.2,516.6 L228.0,508.3 L231.2,500.2 L234.9,492.3 L239.1,484.6 L243.6,477.2 L248.6,470.0 L253.9,463.1 L259.7,456.5 L265.8,450.3 L272.2,444.4 L278.9,438.9 L285.9,433.7 L293.2,429.0 L300.8,424.7 L308.5,420.8 L316.4,417.3 L324.5,414.3 L332.7,411.7 L341.0,409.5 L349.5,407.8 L357.9,406.5 L366.4,405.7 L375.0,405.3 L383.5,405.4 L392.0,405.8 L400.5,406.7 L408.8,408.0 L417.1,409.7 L425.4,411.8 L433.4,414.3 L441.4,417.2 L449.2,420.5 L456.8,424.1 L464.3,428.1 L471.5,432.4 L478.6,437.1 L485.4,442.2 L492.0,447.5 L498.3,453.2 L504.3,459.2 L510.1,465.5 L515.6,472.1 L520.7,478.9 L525.5,486.0 L530.0,493.4 L534.0,501.0 L537.7,508.8 L541.0,516.8 L543.9,525.0 L546.4,533.4 L548.4,541.9 L550.0,550.5 L551.1,559.2Z" fill="#fff2cc" stroke="#f6c9a0" stroke-width="0.6"/>
<path d="M539,588 Q529,668 433,710 Q521,662 539,588Z" fill="#ffdb70"/>
<ellipse cx="173.5" cy="534" rx="9" ry="15" transform="rotate(-8 173.5 534)" fill="#f2b765" stroke="#444" stroke-width="0.7"/>
<ellipse cx="174.5" cy="530" rx="8.6" ry="13.5" transform="rotate(-8 174.5 530)" fill="#dfecd9" stroke="#444" stroke-width="0.7"/>
<path d="M496.4,696.9 Q477.9,708.7 460.5,721.1" fill="none" stroke="#3a3a3a" stroke-width="10.6"/>
<path d="M496.4,696.9 Q477.9,708.7 460.5,721.1" fill="none" stroke="#ffe599" stroke-width="9"/>
<path d="M285.2,730.9 Q265.7,720.5 245.3,711.0" fill="none" stroke="#3a3a3a" stroke-width="10.6"/>
<path d="M285.2,730.9 Q265.7,720.5 245.3,711.0" fill="none" stroke="#ffe599" stroke-width="9"/>
<path d="M176.2,633.8 Q168.4,610.9 160.9,587.8" fill="none" stroke="#3a3a3a" stroke-width="10.6"/>
<path d="M176.2,633.8 Q168.4,610.9 160.9,587.8" fill="none" stroke="#ffe599" stroke-width="9"/>
<path d="M483.5,396.9 Q515.4,408.7 524.8,441.1" fill="none" stroke="#3a3a3a" stroke-width="10.6"/>
<path d="M483.5,396.9 Q515.4,408.7 524.8,441.1" fill="none" stroke="#ffe599" stroke-width="9"/>
<path d="M466.1,720.3 L463.3,721.9 L460.4,723.4 L457.5,724.9 L454.5,726.3 L451.6,727.7 L448.6,729.0 L445.6,730.3 L442.6,731.5 L439.5,732.7 L436.5,733.8 L433.4,734.9 L430.4,735.9 L427.3,736.9 L424.2,737.9 L421.1,738.8 L417.9,739.6 L414.8,740.4 L411.7,741.1 L408.5,741.8 L405.4,742.5 L402.2,743.1 L399.0,743.6 L395.9,744.1 L392.7,744.6 L389.5,745.0 L386.3,745.4 L383.1,745.7 L379.9,746.0 L376.7,746.2 L373.5,746.4 L370.3,746.5 L367.1,746.6 L363.9,746.7 L360.7,746.7 L357.5,746.6 L354.3,746.5 L351.1,746.4 L348.0,746.2 L344.8,746.0 L341.6,745.7 L338.4,745.4 L335.2,745.0 L332.1,744.6 L328.9,744.2 L325.7,743.7 L322.6,743.1 L319.5,742.5 L316.3,741.9 L313.2,741.2 L310.1,740.5 L307.0,739.8 L303.9,738.9 L300.8,738.1 L297.7,737.2 L294.7,736.2 L291.6,735.3 L288.6,734.2 L285.6,733.1 L282.6,732.0 L279.6,730.8" fill="none" stroke="#2b2b2b" stroke-width="16.6" stroke-linecap="round"/>
<path d="M248.6,715.4 L246.9,714.4 L245.3,713.4 L243.7,712.3 L242.1,711.3 L240.5,710.2 L238.9,709.1 L237.3,708.0 L235.7,706.9 L234.2,705.8 L232.6,704.6 L231.1,703.5 L229.5,702.3 L228.0,701.1 L226.5,699.9 L225.0,698.7 L223.5,697.4 L222.0,696.2 L220.6,694.9 L219.1,693.6 L217.7,692.4 L216.3,691.0 L214.9,689.7 L213.5,688.4 L212.1,687.0 L210.7,685.7 L209.3,684.3 L208.0,682.9 L206.6,681.5 L205.3,680.0 L204.0,678.6 L202.7,677.2 L201.4,675.7 L200.2,674.2 L198.9,672.7 L197.7,671.2 L196.5,669.7 L195.3,668.2 L194.1,666.6 L192.9,665.1 L191.7,663.5 L190.6,661.9 L189.5,660.3 L188.4,658.7 L187.3,657.1 L186.2,655.5 L185.1,653.8 L184.1,652.2 L183.1,650.5 L182.1,648.9 L181.1,647.2 L180.1,645.5 L179.1,643.8 L178.2,642.1 L177.3,640.3 L176.4,638.6 L175.5,636.9 L174.6,635.1 L173.8,633.3 L172.9,631.6 L172.1,629.8" fill="none" stroke="#2b2b2b" stroke-width="16.6" stroke-linecap="round"/>
<path d="M160.0,593.4 L158.4,585.1 L157.1,576.7 L156.2,568.3 L155.7,559.8 L155.6,551.3 L155.8,542.9 L156.4,534.4 L157.4,526.0 L158.7,517.7 L160.4,509.4 L162.4,501.2 L164.8,493.1 L167.5,485.2 L170.6,477.3 L173.9,469.6 L177.6,462.1 L181.6,454.7 L185.8,447.5 L190.4,440.5 L195.2,433.6 L200.3,427.0 L205.7,420.6 L211.3,414.5 L217.1,408.5 L223.2,402.8 L229.5,397.4 L236.0,392.2 L242.7,387.3 L249.6,382.7 L256.7,378.3 L264.0,374.3 L271.4,370.6 L278.9,367.2 L286.6,364.0 L294.4,361.3 L302.3,358.8 L310.3,356.7 L318.4,354.9 L326.6,353.5 L334.8,352.4 L343.0,351.7 L351.3,351.3 L359.5,351.3 L367.8,351.6 L376.0,352.2 L384.2,353.2 L392.3,354.6 L400.4,356.2 L408.3,358.2 L416.2,360.6 L424.0,363.2 L431.7,366.2 L439.2,369.5 L446.6,373.0 L453.8,376.9 L460.9,381.0 L467.8,385.4 L474.6,390.1 L481.1,395.0 L487.5,400.2" fill="none" stroke="#2b2b2b" stroke-width="16.6" stroke-linecap="round"/>
<path d="M521.7,436.9 L524.5,440.8 L527.2,444.7 L529.9,448.7 L532.4,452.8 L534.8,457.0 L537.2,461.2 L539.5,465.4 L541.6,469.7 L543.7,474.1 L545.7,478.5 L547.5,483.0 L549.3,487.5 L551.0,492.0 L552.5,496.7 L554.0,501.3 L555.3,506.0 L556.5,510.7 L557.6,515.4 L558.6,520.2 L559.5,525.0 L560.3,529.9 L560.9,534.7 L561.4,539.6 L561.8,544.5 L562.1,549.4 L562.3,554.3 L562.3,559.3 L562.2,564.2 L562.0,569.1 L561.6,574.1 L561.1,579.0 L560.5,583.9 L559.8,588.8 L558.9,593.6 L557.9,598.5 L556.7,603.3 L555.5,608.1 L554.1,612.9 L552.5,617.6 L550.9,622.3 L549.1,626.9 L547.2,631.5 L545.2,636.0 L543.0,640.5 L540.7,644.9 L538.3,649.3 L535.8,653.6 L533.2,657.8 L530.4,661.9 L527.6,666.0 L524.6,670.0 L521.6,673.9 L518.4,677.7 L515.2,681.4 L511.8,685.0 L508.3,688.6 L504.8,692.0 L501.2,695.4 L497.5,698.6 L493.7,701.7" fill="none" stroke="#2b2b2b" stroke-width="16.6" stroke-linecap="round"/>
<path d="M466.1,720.3 L463.3,721.9 L460.4,723.4 L457.5,724.9 L454.5,726.3 L451.6,727.7 L448.6,729.0 L445.6,730.3 L442.6,731.5 L439.5,732.7 L436.5,733.8 L433.4,734.9 L430.4,735.9 L427.3,736.9 L424.2,737.9 L421.1,738.8 L417.9,739.6 L414.8,740.4 L411.7,741.1 L408.5,741.8 L405.4,742.5 L402.2,743.1 L399.0,743.6 L395.9,744.1 L392.7,744.6 L389.5,745.0 L386.3,745.4 L383.1,745.7 L379.9,746.0 L376.7,746.2 L373.5,746.4 L370.3,746.5 L367.1,746.6 L363.9,746.7 L360.7,746.7 L357.5,746.6 L354.3,746.5 L351.1,746.4 L348.0,746.2 L344.8,746.0 L341.6,745.7 L338.4,745.4 L335.2,745.0 L332.1,744.6 L328.9,744.2 L325.7,743.7 L322.6,743.1 L319.5,742.5 L316.3,741.9 L313.2,741.2 L310.1,740.5 L307.0,739.8 L303.9,738.9 L300.8,738.1 L297.7,737.2 L294.7,736.2 L291.6,735.3 L288.6,734.2 L285.6,733.1 L282.6,732.0 L279.6,730.8" fill="none" stroke="#f4b183" stroke-width="14.3" stroke-linecap="round"/>
<path d="M248.6,715.4 L246.9,714.4 L245.3,713.4 L243.7,712.3 L242.1,711.3 L240.5,710.2 L238.9,709.1 L237.3,708.0 L235.7,706.9 L234.2,705.8 L232.6,704.6 L231.1,703.5 L229.5,702.3 L228.0,701.1 L226.5,699.9 L225.0,698.7 L223.5,697.4 L222.0,696.2 L220.6,694.9 L219.1,693.6 L217.7,692.4 L216.3,691.0 L214.9,689.7 L213.5,688.4 L212.1,687.0 L210.7,685.7 L209.3,684.3 L208.0,682.9 L206.6,681.5 L205.3,680.0 L204.0,678.6 L202.7,677.2 L201.4,675.7 L200.2,674.2 L198.9,672.7 L197.7,671.2 L196.5,669.7 L195.3,668.2 L194.1,666.6 L192.9,665.1 L191.7,663.5 L190.6,661.9 L189.5,660.3 L188.4,658.7 L187.3,657.1 L186.2,655.5 L185.1,653.8 L184.1,652.2 L183.1,650.5 L182.1,648.9 L181.1,647.2 L180.1,645.5 L179.1,643.8 L178.2,642.1 L177.3,640.3 L176.4,638.6 L175.5,636.9 L174.6,635.1 L173.8,633.3 L172.9,631.6 L172.1,629.8" fill="none" stroke="#f4b183" stroke-width="14.3" stroke-linecap="round"/>
<path d="M160.0,593.4 L158.4,585.1 L157.1,576.7 L156.2,568.3 L155.7,559.8 L155.6,551.3 L155.8,542.9 L156.4,534.4 L157.4,526.0 L158.7,517.7 L160.4,509.4 L162.4,501.2 L164.8,493.1 L167.5,485.2 L170.6,477.3 L173.9,469.6 L177.6,462.1 L181.6,454.7 L185.8,447.5 L190.4,440.5 L195.2,433.6 L200.3,427.0 L205.7,420.6 L211.3,414.5 L217.1,408.5 L223.2,402.8 L229.5,397.4 L236.0,392.2 L242.7,387.3 L249.6,382.7 L256.7,378.3 L264.0,374.3 L271.4,370.6 L278.9,367.2 L286.6,364.0 L294.4,361.3 L302.3,358.8 L310.3,356.7 L318.4,354.9 L326.6,353.5 L334.8,352.4 L343.0,351.7 L351.3,351.3 L359.5,351.3 L367.8,351.6 L376.0,352.2 L384.2,353.2 L392.3,354.6 L400.4,356.2 L408.3,358.2 L416.2,360.6 L424.0,363.2 L431.7,366.2 L439.2,369.5 L446.6,373.0 L453.8,376.9 L460.9,381.0 L467.8,385.4 L474.6,390.1 L481.1,395.0 L487.5,400.2" fill="none" stroke="#f4b183" stroke-width="14.3" stroke-linecap="round"/>
<path d="M521.7,436.9 L524.5,440.8 L527.2,444.7 L529.9,448.7 L532.4,452.8 L534.8,457.0 L537.2,461.2 L539.5,465.4 L541.6,469.7 L543.7,474.1 L545.7,478.5 L547.5,483.0 L549.3,487.5 L551.0,492.0 L552.5,496.7 L554.0,501.3 L555.3,506.0 L556.5,510.7 L557.6,515.4 L558.6,520.2 L559.5,525.0 L560.3,529.9 L560.9,534.7 L561.4,539.6 L561.8,544.5 L562.1,549.4 L562.3,554.3 L562.3,559.3 L562.2,564.2 L562.0,569.1 L561.6,574.1 L561.1,579.0 L560.5,583.9 L559.8,588.8 L558.9,593.6 L557.9,598.5 L556.7,603.3 L555.5,608.1 L554.1,612.9 L552.5,617.6 L550.9,622.3 L549.1,626.9 L547.2,631.5 L545.2,636.0 L543.0,640.5 L540.7,644.9 L538.3,649.3 L535.8,653.6 L533.2,657.8 L530.4,661.9 L527.6,666.0 L524.6,670.0 L521.6,673.9 L518.4,677.7 L515.2,681.4 L511.8,685.0 L508.3,688.6 L504.8,692.0 L501.2,695.4 L497.5,698.6 L493.7,701.7" fill="none" stroke="#f4b183" stroke-width="14.3" stroke-linecap="round"/>
<circle cx="424" cy="382" r="13" fill="#ffe9a8" stroke="#555" stroke-width="0.7"/>
<circle cx="427.5" cy="379" r="11.5" fill="#dfecd9" stroke="#555" stroke-width="0.7"/>
<path d="M398.4,355.8 L403.8,357.1 L409.1,358.5 L414.4,360.0 L419.7,361.7 L424.9,363.5 L430.0,365.5 L435.1,367.6 L440.1,369.9 L445.1,372.3 L450.0,374.8" fill="none" stroke="#2b2b2b" stroke-width="16.6"/>
<path d="M397.4,355.6 L403.0,356.9 L408.5,358.3 L414.0,359.9 L419.5,361.6 L424.9,363.5 L430.2,365.6 L435.5,367.8 L440.7,370.1 L445.8,372.6 L450.9,375.3" fill="none" stroke="#f4b183" stroke-width="14.3"/>
<path d="M255.5,586.5 L257.8,586.8 L260.1,588.1 L262.5,590.4 L264.8,593.7 L267.1,598.0 L269.4,603.0 L271.8,608.2 L274.1,613.5 L276.4,618.5 L278.7,622.8 L281.0,626.1 L283.4,628.4 L285.7,629.7 L288.0,630.0 L295.5,630.0 L293.2,629.7 L290.9,628.4 L288.5,626.1 L286.2,622.8 L283.9,618.5 L281.6,613.5 L279.2,608.2 L276.9,603.0 L274.6,598.0 L272.3,593.7 L270.0,590.4 L267.6,588.1 L265.3,586.8 L263.0,586.5Z" fill="#a40000" stroke="#3b2020" stroke-width="0.5"/>
<path d="M298.9,586.5 L301.2,586.8 L303.5,588.1 L305.9,590.4 L308.2,593.7 L310.5,598.0 L312.8,603.0 L315.1,608.2 L317.5,613.5 L319.8,618.5 L322.1,622.8 L324.4,626.1 L326.8,628.4 L329.1,629.7 L331.4,630.0 L338.9,630.0 L336.6,629.7 L334.3,628.4 L331.9,626.1 L329.6,622.8 L327.3,618.5 L325.0,613.5 L322.6,608.2 L320.3,603.0 L318.0,598.0 L315.7,593.7 L313.4,590.4 L311.0,588.1 L308.7,586.8 L306.4,586.5Z" fill="#a40000" stroke="#3b2020" stroke-width="0.5"/>
<path d="M342.3,586.5 L344.6,586.8 L346.9,588.1 L349.3,590.4 L351.6,593.7 L353.9,598.0 L356.2,603.0 L358.6,608.2 L360.9,613.5 L363.2,618.5 L365.5,622.8 L367.8,626.1 L370.2,628.4 L372.5,629.7 L374.8,630.0 L382.3,630.0 L380.0,629.7 L377.7,628.4 L375.3,626.1 L373.0,622.8 L370.7,618.5 L368.4,613.5 L366.1,608.2 L363.7,603.0 L361.4,598.0 L359.1,593.7 L356.8,590.4 L354.4,588.1 L352.1,586.8 L349.8,586.5Z" fill="#a40000" stroke="#3b2020" stroke-width="0.5"/>
<path d="M385.7,586.5 L388.0,586.8 L390.3,588.1 L392.7,590.4 L395.0,593.7 L397.3,598.0 L399.6,603.0 L401.9,608.2 L404.3,613.5 L406.6,618.5 L408.9,622.8 L411.2,626.1 L413.6,628.4 L415.9,629.7 L418.2,630.0 L425.7,630.0 L423.4,629.7 L421.1,628.4 L418.7,626.1 L416.4,622.8 L414.1,618.5 L411.8,613.5 L409.4,608.2 L407.1,603.0 L404.8,598.0 L402.5,593.7 L400.2,590.4 L397.8,588.1 L395.5,586.8 L393.2,586.5Z" fill="#a40000" stroke="#3b2020" stroke-width="0.5"/>
<path d="M429.1,586.5 L431.4,586.8 L433.7,588.1 L436.1,590.4 L438.4,593.7 L440.7,598.0 L443.0,603.0 L445.4,608.2 L447.7,613.5 L450.0,618.5 L452.3,622.8 L454.6,626.1 L457.0,628.4 L459.3,629.7 L461.6,630.0 L469.1,630.0 L466.8,629.7 L464.5,628.4 L462.1,626.1 L459.8,622.8 L457.5,618.5 L455.2,613.5 L452.9,608.2 L450.5,603.0 L448.2,598.0 L445.9,593.7 L443.6,590.4 L441.2,588.1 L438.9,586.8 L436.6,586.5Z" fill="#a40000" stroke="#3b2020" stroke-width="0.5"/>
<path d="M472.5,586.5 L474.8,586.8 L477.1,588.1 L479.5,590.4 L481.8,593.7 L484.1,598.0 L486.4,603.0 L488.8,608.2 L491.1,613.5 L493.4,618.5 L495.7,622.8 L498.0,626.1 L500.4,628.4 L502.7,629.7 L505.0,630.0 L512.5,630.0 L510.2,629.7 L507.9,628.4 L505.5,626.1 L503.2,622.8 L500.9,618.5 L498.6,613.5 L496.2,608.2 L493.9,603.0 L491.6,598.0 L489.3,593.7 L487.0,590.4 L484.6,588.1 L482.3,586.8 L480.0,586.5Z" fill="#a40000" stroke="#3b2020" stroke-width="0.5"/>
<path d="M250.5,630.0 L253.1,629.7 L255.6,628.4 L258.2,626.1 L260.8,622.8 L263.4,618.5 L265.9,613.5 L268.5,608.2 L271.1,603.0 L273.6,598.0 L276.2,593.7 L278.8,590.4 L281.4,588.1 L283.9,586.8 L286.5,586.5 L293.5,586.5 L290.9,586.8 L288.4,588.1 L285.8,590.4 L283.2,593.7 L280.6,598.0 L278.1,603.0 L275.5,608.2 L272.9,613.5 L270.4,618.5 L267.8,622.8 L265.2,626.1 L262.6,628.4 L260.1,629.7 L257.5,630.0Z" fill="#8497b0" stroke="#333" stroke-width="0.5"/>
<path d="M293.9,630.0 L296.5,629.7 L299.0,628.4 L301.6,626.1 L304.2,622.8 L306.8,618.5 L309.3,613.5 L311.9,608.2 L314.5,603.0 L317.0,598.0 L319.6,593.7 L322.2,590.4 L324.8,588.1 L327.3,586.8 L329.9,586.5 L336.9,586.5 L334.3,586.8 L331.8,588.1 L329.2,590.4 L326.6,593.7 L324.0,598.0 L321.5,603.0 L318.9,608.2 L316.3,613.5 L313.8,618.5 L311.2,622.8 L308.6,626.1 L306.0,628.4 L303.5,629.7 L300.9,630.0Z" fill="#8497b0" stroke="#333" stroke-width="0.5"/>
<path d="M337.3,630.0 L339.9,629.7 L342.4,628.4 L345.0,626.1 L347.6,622.8 L350.2,618.5 L352.7,613.5 L355.3,608.2 L357.9,603.0 L360.4,598.0 L363.0,593.7 L365.6,590.4 L368.2,588.1 L370.7,586.8 L373.3,586.5 L380.3,586.5 L377.7,586.8 L375.2,588.1 L372.6,590.4 L370.0,593.7 L367.4,598.0 L364.9,603.0 L362.3,608.2 L359.7,613.5 L357.2,618.5 L354.6,622.8 L352.0,626.1 L349.4,628.4 L346.9,629.7 L344.3,630.0Z" fill="#8497b0" stroke="#333" stroke-width="0.5"/>
<path d="M380.7,630.0 L383.3,629.7 L385.8,628.4 L388.4,626.1 L391.0,622.8 L393.6,618.5 L396.1,613.5 L398.7,608.2 L401.3,603.0 L403.8,598.0 L406.4,593.7 L409.0,590.4 L411.6,588.1 L414.1,586.8 L416.7,586.5 L423.7,586.5 L421.1,586.8 L418.6,588.1 L416.0,590.4 L413.4,593.7 L410.8,598.0 L408.3,603.0 L405.7,608.2 L403.1,613.5 L400.6,618.5 L398.0,622.8 L395.4,626.1 L392.8,628.4 L390.3,629.7 L387.7,630.0Z" fill="#8497b0" stroke="#333" stroke-width="0.5"/>
<path d="M424.1,630.0 L426.7,629.7 L429.2,628.4 L431.8,626.1 L434.4,622.8 L437.0,618.5 L439.5,613.5 L442.1,608.2 L444.7,603.0 L447.2,598.0 L449.8,593.7 L452.4,590.4 L455.0,588.1 L457.5,586.8 L460.1,586.5 L467.1,586.5 L464.5,586.8 L462.0,588.1 L459.4,590.4 L456.8,593.7 L454.2,598.0 L451.7,603.0 L449.1,608.2 L446.5,613.5 L444.0,618.5 L441.4,622.8 L438.8,626.1 L436.2,628.4 L433.7,629.7 L431.1,630.0Z" fill="#8497b0" stroke="#333" stroke-width="0.5"/>
<path d="M467.5,630.0 L470.1,629.7 L472.6,628.4 L475.2,626.1 L477.8,622.8 L480.4,618.5 L482.9,613.5 L485.5,608.2 L488.1,603.0 L490.6,598.0 L493.2,593.7 L495.8,590.4 L498.4,588.1 L500.9,586.8 L503.5,586.5 L510.5,586.5 L507.9,586.8 L505.4,588.1 L502.8,590.4 L500.2,593.7 L497.6,598.0 L495.1,603.0 L492.5,608.2 L489.9,613.5 L487.4,618.5 L484.8,622.8 L482.2,626.1 L479.6,628.4 L477.1,629.7 L474.5,630.0Z" fill="#8497b0" stroke="#333" stroke-width="0.5"/>
<ellipse cx="289.5" cy="348.6" rx="12.7" ry="36.5" fill="#d2633f"/>
<ellipse cx="326.6" cy="348.3" rx="12.3" ry="36.5" fill="#d2633f"/>
<path d="M308.5,307 C316,307 319.3,325 319.3,349.7 C319.3,374 316,392.5 308.5,392.5 C301,392.5 297.7,374 297.7,349.7 C297.7,325 301,307 308.5,307Z" fill="#5b9bd5" stroke="#3f7fc1" stroke-width="1.3"/>
<text transform="translate(294.6,353.4) rotate(-90) scale(0.84,1)" font-size="20.5" text-anchor="middle" fill="#000" stroke="#000" stroke-width="1.2" stroke-linejoin="round">CRM1</text>
<text transform="translate(334.2,349.6) rotate(-90) scale(0.84,1)" font-size="20.5" text-anchor="middle" fill="#000" stroke="#000" stroke-width="1.2" stroke-linejoin="round">CRM1</text>
<text transform="translate(317,350) rotate(-90) scale(0.83,1)" font-size="20.6" text-anchor="middle" fill="#1d2f55">TFEB</text>
<text transform="translate(316.2,349.3) rotate(-90) scale(0.83,1)" font-size="20.6" text-anchor="middle" fill="#fff">TFEB</text>
<ellipse cx="370.5" cy="246.0" rx="42.5" ry="16.0" fill="#5b9bd5" stroke="#4583c4" stroke-width="1.2"/>
<text x="371.5" y="252.6" font-size="16.5" text-anchor="middle" fill="#1d2f55" letter-spacing="1.4">TFEB</text>
<text x="370.7" y="251.9" font-size="16.5" text-anchor="middle" fill="#fff" letter-spacing="1.4">TFEB</text>
<rect x="498" y="208" width="86.5" height="30" rx="4" fill="#dde8d6" stroke="#111" stroke-width="1.6"/>
<text x="540.5" y="230.5" font-size="18" text-anchor="middle" fill="#000" stroke="#000" stroke-width="0.6">mTOR</text>
<circle cx="505.8" cy="206.0" r="10.0" fill="#ff9a0a" stroke="#111" stroke-width="1.5"/>
<text x="505.8" y="210.9" font-size="14.0" text-anchor="middle" fill="#000" stroke="#000" stroke-width="0.4" font-family="'Liberation Serif', serif">P</text>
<ellipse cx="540.0" cy="312.0" rx="43.0" ry="15.3" fill="#5b9bd5" stroke="#4583c4" stroke-width="1.2"/>
<text x="541.0" y="318.6" font-size="16.5" text-anchor="middle" fill="#1d2f55" letter-spacing="1.4">TFEB</text>
<text x="540.2" y="317.9" font-size="16.5" text-anchor="middle" fill="#fff" letter-spacing="1.4">TFEB</text>
<circle cx="500.0" cy="296.0" r="10.0" fill="#ff9a0a" stroke="#111" stroke-width="1.5"/>
<text x="500.0" y="300.9" font-size="14.0" text-anchor="middle" fill="#000" stroke="#000" stroke-width="0.4" font-family="'Liberation Serif', serif">P</text>
<text x="513" y="296" font-size="13.2" fill="#000" stroke="#000" stroke-width="0.45" letter-spacing="-0.1">S142/S211</text>
<ellipse cx="308.75" cy="465" rx="43" ry="16" fill="#f0c2fb"/>
<text x="305.5" y="471.5" font-size="17.5" text-anchor="middle" fill="#000" stroke="#000" stroke-width="0.7">GCN5</text>
<ellipse cx="371.0" cy="485.5" rx="42.5" ry="16.0" fill="#5b9bd5" stroke="#4583c4" stroke-width="1.2"/>
<text x="372.0" y="492.1" font-size="16.5" text-anchor="middle" fill="#1d2f55" letter-spacing="1.4">TFEB</text>
<text x="371.2" y="491.4" font-size="16.5" text-anchor="middle" fill="#fff" letter-spacing="1.4">TFEB</text>
<circle cx="318.8" cy="486.8" r="10.8" fill="#ffdc00" stroke="#111" stroke-width="1.5"/>
<text x="318.8" y="491.2" font-size="12.5" text-anchor="middle" fill="#000" stroke="#000" stroke-width="0.4">Ac</text>
<ellipse cx="367.0" cy="605.0" rx="42.0" ry="15.3" fill="#5b9bd5" stroke="#4583c4" stroke-width="1.2"/>
<text x="368.0" y="611.6" font-size="16.5" text-anchor="middle" fill="#1d2f55" letter-spacing="1.4">TFEB</text>
<text x="367.2" y="610.9" font-size="16.5" text-anchor="middle" fill="#fff" letter-spacing="1.4">TFEB</text>
<g stroke="#ff0000" stroke-width="4.2" fill="none">
<path d="M481,312 L434,312 M434,301.5 L434,322.5"/>
<path d="M370.5,512.5 L371,570 M361,570.5 L381,570.5"/>
</g>
<path d="M294.0,194.0 C232.0,250.0 205.0,355.0 262.0,446.0" fill="none" stroke="#000" stroke-width="3.2" stroke-linecap="butt"/>
<path d="M248.9,438.7 L262.0,446.0 L261.2,431.0" fill="none" stroke="#000" stroke-width="3.2" stroke-linecap="round" stroke-linejoin="miter"/>
<path d="M309.5,195.0 C285.0,220.0 268.0,265.0 281.0,317.0" fill="none" stroke="#000" stroke-width="3.2" stroke-linecap="butt"/>
<path d="M270.8,306.0 L281.0,317.0 L284.9,302.5" fill="none" stroke="#000" stroke-width="3.2" stroke-linecap="round" stroke-linejoin="miter"/>
<path d="M312.5,304.0 C322.0,289.0 333.0,277.0 347.5,267.5" fill="none" stroke="#000" stroke-width="3.2" stroke-linecap="butt"/>
<path d="M340.5,280.8 L347.5,267.5 L332.5,268.6" fill="none" stroke="#000" stroke-width="3.2" stroke-linecap="round" stroke-linejoin="miter"/>
<path d="M389,269.5 Q407,297 422.6,331.5" fill="none" stroke="#000" stroke-width="3.2"/>
<path d="M425.5,372.5 Q424,420 406,452" fill="none" stroke="#000" stroke-width="3.2"/>
<path d="M405.2,437.0 L406.0,452.0 L418.3,443.4" fill="none" stroke="#000" stroke-width="3.2" stroke-linecap="round" stroke-linejoin="miter"/>
<path d="M346.0,175.0 C390.0,155.0 450.0,165.0 487.0,201.0" fill="none" stroke="#000" stroke-width="3.2" stroke-linecap="butt"/>
<path d="M472.5,197.1 L487.0,201.0 L482.7,186.6" fill="none" stroke="#000" stroke-width="3.2" stroke-linecap="round" stroke-linejoin="miter"/>
<path d="M540.5,239.0 L540.5,270.5" stroke="#000" stroke-width="3.6" fill="none"/>
<path d="M540.5,280.5 L535.0,269.5 L546.0,269.5 Z" fill="#000"/>
<path d="M740.0,465.0 L740.0,432.5" stroke="#000" stroke-width="3.6" fill="none"/>
<path d="M740.0,422.5 L745.5,433.5 L734.5,433.5 Z" fill="#000"/>
<path d="M566.0,551.0 L660.5,551.0" stroke="#000" stroke-width="3.6" fill="none"/>
<path d="M670.5,551.0 L659.5,556.5 L659.5,545.5 Z" fill="#000"/>
<path d="M403,573.5 L403,552.5 L440,552.5" fill="none" stroke="#000" stroke-width="3.6"/>
<path d="M430.0,552.5 L439.0,552.5" stroke="#000" stroke-width="3.6" fill="none"/>
<path d="M449.0,552.5 L438.0,558.0 L438.0,547.0 Z" fill="#000"/>
<path d="M783.0,260.0 L890.7,128.2" stroke="#000" stroke-width="6.0" fill="none"/>
<path d="M901.5,115.0 L896.3,134.0 L883.9,123.9 Z" fill="#000"/>
<use href="#ves" transform="translate(695.5,313) scale(0.995)"/>
<use href="#ves" transform="translate(776.3,311.2) scale(1.005)"/>
<use href="#ves" transform="translate(699.5,381.5) scale(1.0)"/>
<use href="#ves" transform="translate(772.8,376.3) scale(1.02)"/>
<g transform="translate(744,544)">
<use href="#tuft" transform="translate(-2,-63) scale(1.1)"/>
<use href="#tuft" transform="translate(62,-20) rotate(75)"/>
<use href="#tuft" transform="translate(-64,-2) rotate(-88)"/>
<use href="#tuft" transform="translate(18,61) rotate(165)"/>
<circle r="63.5" fill="#c9def2"/><circle r="62" fill="#bdd7ee"/>
<g clip-path="url(#lclip)">
<path d="M-26,50 C-27,40 -16,33 -4,31 C10,29 22,26 31,17 C40,8 40,-6 50,-9 C56,-11 61,-6 59,6 C55,28 40,46 20,54 C4,60 -22,62 -26,50 Z" fill="#8fb4de"/>
<ellipse cx="-34.5" cy="-25" rx="23" ry="11.5" transform="rotate(-40 -34.5 -25)" fill="#cfe0f3"/>
<circle cx="-45.7" cy="-20.3" r="1.6" fill="#eef5fc"/>
</g>
<use href="#pac" transform="translate(-6,-40) rotate(-20)"/>
<use href="#pac" transform="translate(28.3,-14.7) rotate(100)"/>
<use href="#pac" transform="translate(-13,-4.4) rotate(-150)"/>
<use href="#pac" transform="translate(-35.2,15.3) rotate(100)"/>
<use href="#pac" transform="translate(13.7,23) rotate(-100)"/>
</g>
<text x="255.5" y="46.5" font-size="26.5" text-anchor="middle" fill="#000" stroke="#000" stroke-width="0.90" stroke-linejoin="round">Cd</text>
<text x="933.0" y="61.7" font-size="27.0" text-anchor="middle" fill="#000" stroke="#000" stroke-width="0.90" stroke-linejoin="round">Acute kidney</text>
<text x="933.0" y="93.3" font-size="27.0" text-anchor="middle" fill="#000" stroke="#000" stroke-width="0.90" stroke-linejoin="round">injury</text>
<text x="375.5" y="703.7" font-size="27.0" text-anchor="middle" fill="#000" stroke="#000" stroke-width="0.90" stroke-linejoin="round">Nucleus</text>
<text x="739.5" y="705.5" font-size="27.0" text-anchor="middle" fill="#000" stroke="#000" stroke-width="0.90" stroke-linejoin="round">Cytoplasm</text>
<text x="868.5" y="343.7" font-size="18.2" text-anchor="middle" fill="#000" stroke="#000" stroke-width="0.65" stroke-linejoin="round">Autophagy</text>
<text x="871.0" y="365.0" font-size="18.2" text-anchor="middle" fill="#000" stroke="#000" stroke-width="0.65" stroke-linejoin="round">inhibition</text>
<text x="877.5" y="541.7" font-size="18.2" text-anchor="middle" fill="#000" stroke="#000" stroke-width="0.65" stroke-linejoin="round">Lysosomal</text>
<text x="876.5" y="563.0" font-size="18.2" text-anchor="middle" fill="#000" stroke="#000" stroke-width="0.65" stroke-linejoin="round">dysfunction</text>
<text x="505.0" y="537.0" font-size="18.2" text-anchor="middle" fill="#000" stroke="#000" stroke-width="0.65" stroke-linejoin="round">Lysosomal-</text>
<text x="504.0" y="558.7" font-size="18.2" text-anchor="middle" fill="#000" stroke="#000" stroke-width="0.65" stroke-linejoin="round">autophagic</text>
<text x="504.0" y="580.0" font-size="18.2" text-anchor="middle" fill="#000" stroke="#000" stroke-width="0.65" stroke-linejoin="round">genes</text>
</svg>
</body></html>
